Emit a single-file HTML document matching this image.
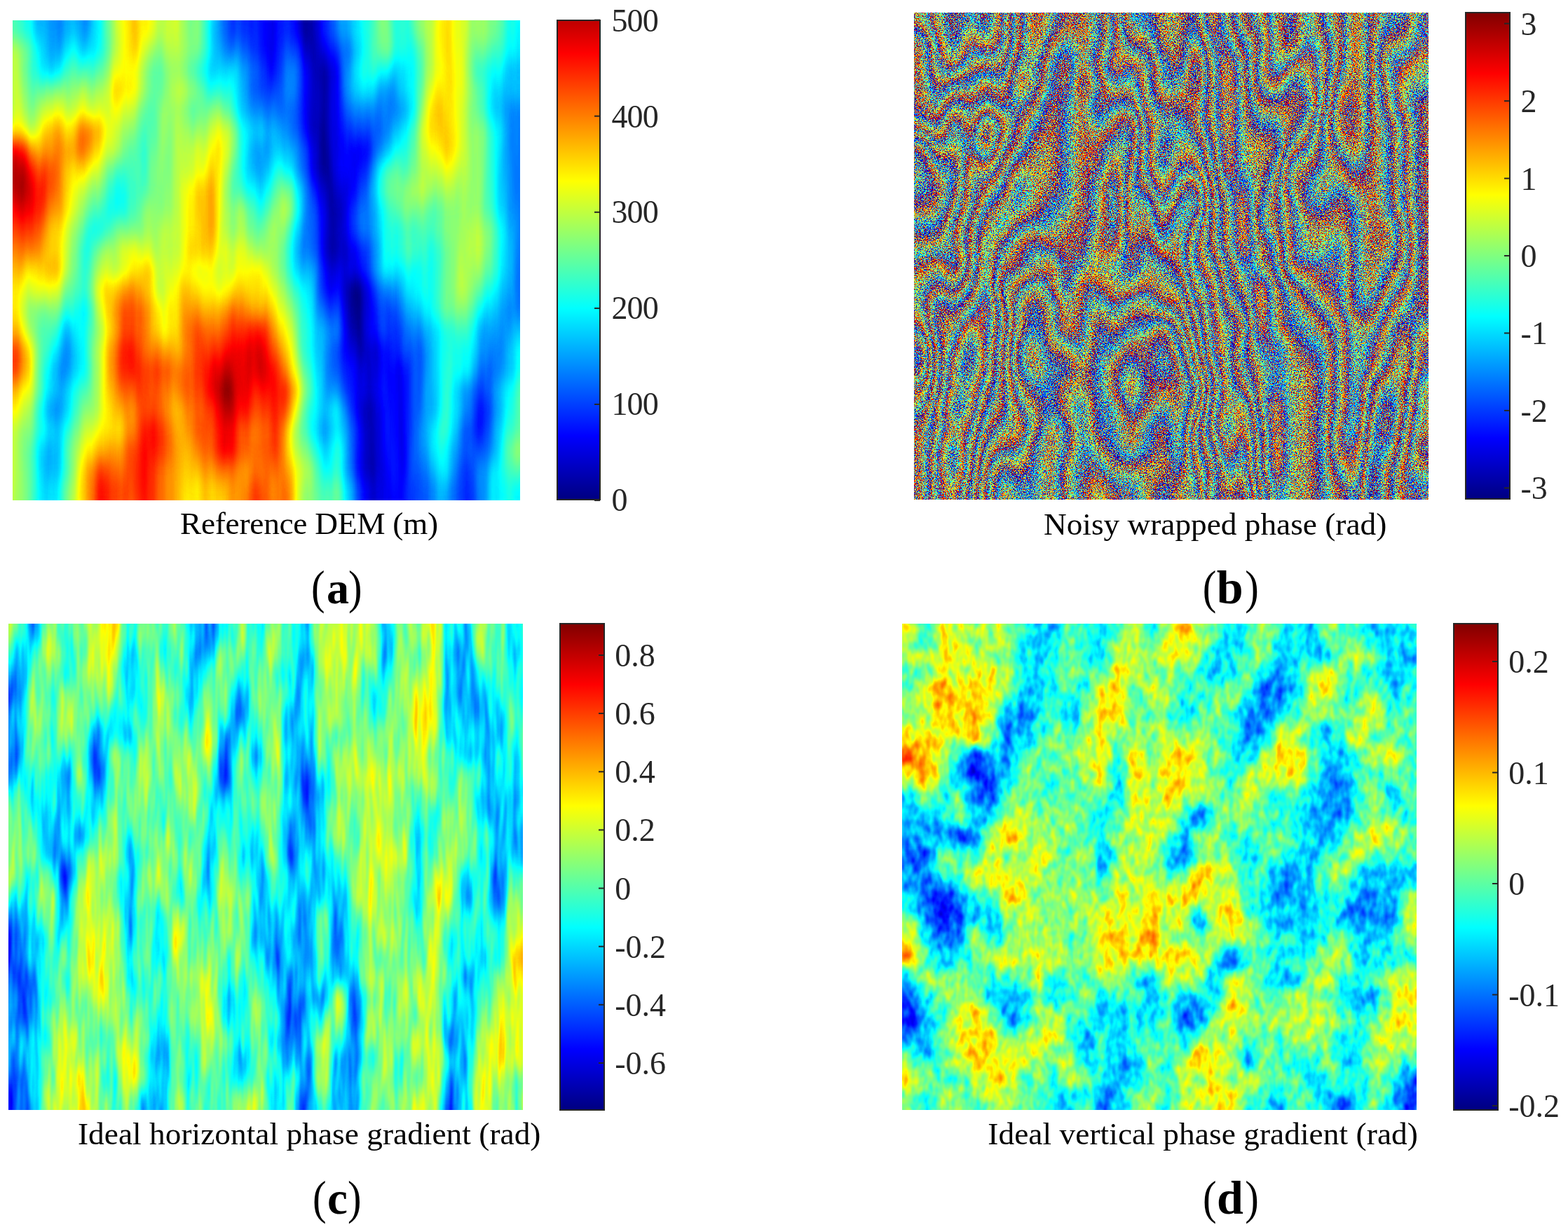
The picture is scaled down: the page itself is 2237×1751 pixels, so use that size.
<!DOCTYPE html>
<html><head><meta charset="utf-8"><title>Figure</title>
<style>
html,body{margin:0;padding:0;background:#fff}
body{width:2237px;height:1751px;overflow:hidden}
svg{display:block}
text{font-family:"Liberation Serif","Times New Roman",serif}
.t{font-size:46px;fill:#262626}
.c{font-size:45.3px;fill:#000}
.l{font-size:63px;font-weight:bold;fill:#000}
.p{font-size:68px;fill:#000}
</style></head><body>
<svg xmlns="http://www.w3.org/2000/svg" width="2237" height="1751" viewBox="0 0 2237 1751">
<defs>
<filter id="fa" filterUnits="userSpaceOnUse" x="-70" y="-70" width="864" height="825" color-interpolation-filters="sRGB">
<feGaussianBlur in="SourceGraphic" stdDeviation="10 13" result="b"/>
<feTurbulence type="fractalNoise" baseFrequency="0.05 0.006" numOctaves="2" seed="3" result="t"/>
<feColorMatrix in="t" type="matrix" values="1 0 0 0 0 1 0 0 0 0 1 0 0 0 0 0 0 0 0 1" result="n"/>
<feComposite in="b" in2="n" operator="arithmetic" k1="0" k2="1" k3="0.1" k4="-0.0500"/>
<feComponentTransfer><feFuncR type="table" tableValues="0 0 0 0 .5 1 1 1 .5"/><feFuncG type="table" tableValues="0 0 .5 1 1 1 .5 0 0"/><feFuncB type="table" tableValues=".5 1 1 1 .5 0 0 0 0"/><feFuncA type="linear" slope="0" intercept="1"/></feComponentTransfer>
</filter>
<filter id="fb" filterUnits="userSpaceOnUse" x="-70" y="-70" width="874" height="835" color-interpolation-filters="sRGB">
<feGaussianBlur in="SourceGraphic" stdDeviation="10 13" result="b"/>
<feTurbulence type="fractalNoise" baseFrequency="0.6 0.6" numOctaves="1" seed="7" result="t"/>
<feColorMatrix in="t" type="matrix" values="1 0 0 0 0 1 0 0 0 0 1 0 0 0 0 0 0 0 0 1" result="n"/>
<feComposite in="b" in2="n" operator="arithmetic" k1="0" k2="0.7" k3="0.17" k4="0.0650"/>
<feComponentTransfer><feFuncR type="discrete" tableValues="0 .187 .389 .591 .792 .994 1 1 1 1 .997 .796 .594 0 0 0 0 0 0 0 .019 .221 .423 .624 .826 1 1 1 1 1 .964 .762 .561 0 0 0 0 0 0 0 .053 .255 .456 .658 .86 1 1 1 1 1 .93 .729 .527 0 0 0 0 0 0 0 .087 .288 .49 .692 .893 1 1 1 1 1 .897 .695 0 0 0 0 0 0 0 0 .12 .322 .524 .725 .927 1 1 1 1 1 .863 .661 0 0 0 0 0 0 0 0 .154 .355 .557 .759 .961 1 1 1 1 1 .829 .628 0 0 0 0 0 0 0 0 .187 .389 .591 .792 .994 1 1 1 1 .997 .796 .594 0 0 0 0 0 0 0 .019 .221 .423 .624 .826 1 1 1 1 1 .964 .762 .561 0 0 0 0 0 0 0 .053 .255 .456 .658 .86 1 1 1 1 1 .93 .729 .527 0 0 0 0 0 0 0 .087 .288 .49 .692 .893 1 1 1 1 1 .897 .695 0 0 0 0 0 0 0 0 .12 .322 .524 .725 .927 1 1 1 1 1 .863 .661 0 0 0 0 0 0 0 0 .154 .355 .557 .759 .961 1 1 1 1 1 .829 .628 0 0 0 0 0 0 0 0 .187 .389 .591 .792 .994 1 1 1 1 .997 .796 .594 0 0 0 0 0"/><feFuncG type="discrete" tableValues=".986 1 1 1 1 1 .804 .603 .401 .199 0 0 0 0 0 .011 .213 .414 .616 .818 1 1 1 1 1 .972 .771 .569 .367 .166 0 0 0 0 0 .045 .246 .448 .65 .851 1 1 1 1 1 .939 .737 .535 .334 .132 0 0 0 0 0 .078 .28 .482 .683 .885 1 1 1 1 1 .905 .703 .502 .3 .098 0 0 0 0 0 .112 .313 .515 .717 .918 1 1 1 1 1 .871 .67 .468 .266 .065 0 0 0 0 0 .145 .347 .549 .75 .952 1 1 1 1 1 .838 .636 .434 .233 .031 0 0 0 0 0 .179 .381 .582 .784 .986 1 1 1 1 1 .804 .603 .401 .199 0 0 0 0 0 .011 .213 .414 .616 .818 1 1 1 1 1 .972 .771 .569 .367 .166 0 0 0 0 0 .045 .246 .448 .65 .851 1 1 1 1 1 .939 .737 .535 .334 .132 0 0 0 0 0 .078 .28 .482 .683 .885 1 1 1 1 1 .905 .703 .502 .3 .098 0 0 0 0 0 .112 .313 .515 .717 .918 1 1 1 1 1 .871 .67 .468 .266 .065 0 0 0 0 0 .145 .347 .549 .75 .952 1 1 1 1 1 .838 .636 .434 .233 .031 0 0 0 0 0 .179 .381 .582 .784 .986 1 1 1 1 1 .804 .603 .401 .199 0 0 0 0 0 .011 .213 .414"/><feFuncB type="discrete" tableValues="1 .813 .611 .409 .208 .006 0 0 0 0 0 0 0 .608 .809 1 1 1 1 1 .981 .779 .577 .376 .174 0 0 0 0 0 0 0 0 .641 .843 1 1 1 1 1 .947 .745 .544 .342 .14 0 0 0 0 0 0 0 0 .675 .876 1 1 1 1 1 .913 .712 .51 .308 .107 0 0 0 0 0 0 0 .507 .708 .91 1 1 1 1 1 .88 .678 .476 .275 .073 0 0 0 0 0 0 0 .54 .742 .944 1 1 1 1 1 .846 .645 .443 .241 .039 0 0 0 0 0 0 0 .574 .776 .977 1 1 1 1 1 .813 .611 .409 .208 .006 0 0 0 0 0 0 0 .608 .809 1 1 1 1 1 .981 .779 .577 .376 .174 0 0 0 0 0 0 0 0 .641 .843 1 1 1 1 1 .947 .745 .544 .342 .14 0 0 0 0 0 0 0 0 .675 .876 1 1 1 1 1 .913 .712 .51 .308 .107 0 0 0 0 0 0 0 .507 .708 .91 1 1 1 1 1 .88 .678 .476 .275 .073 0 0 0 0 0 0 0 .54 .742 .944 1 1 1 1 1 .846 .645 .443 .241 .039 0 0 0 0 0 0 0 .574 .776 .977 1 1 1 1 1 .813 .611 .409 .208 .006 0 0 0 0 0 0 0 .608 .809 1 1 1"/><feFuncA type="linear" slope="0" intercept="1"/></feComponentTransfer>
</filter>
<filter id="fc" filterUnits="userSpaceOnUse" x="-70" y="-70" width="874" height="834" color-interpolation-filters="sRGB">
<feGaussianBlur in="SourceGraphic" stdDeviation="6 12" result="b"/>
<feTurbulence type="fractalNoise" baseFrequency="0.1 0.012" numOctaves="2" seed="11" result="t"/>
<feColorMatrix in="t" type="matrix" values="1 0 0 0 0 1 0 0 0 0 1 0 0 0 0 0 0 0 0 1" result="n"/>
<feComposite in="b" in2="n" operator="arithmetic" k1="0" k2="1" k3="0.25" k4="-0.1250"/>
<feComponentTransfer><feFuncR type="table" tableValues="0 0 0 0 .5 1 1 1 .5"/><feFuncG type="table" tableValues="0 0 .5 1 1 1 .5 0 0"/><feFuncB type="table" tableValues=".5 1 1 1 .5 0 0 0 0"/><feFuncA type="linear" slope="0" intercept="1"/></feComponentTransfer>
</filter>
<filter id="fd" filterUnits="userSpaceOnUse" x="-70" y="-70" width="874" height="834" color-interpolation-filters="sRGB">
<feGaussianBlur in="SourceGraphic" stdDeviation="8 10" result="b"/>
<feTurbulence type="fractalNoise" baseFrequency="0.09 0.05" numOctaves="2" seed="5" result="t"/>
<feColorMatrix in="t" type="matrix" values="1 0 0 0 0 1 0 0 0 0 1 0 0 0 0 0 0 0 0 1" result="n"/>
<feComposite in="b" in2="n" operator="arithmetic" k1="0" k2="1" k3="0.3" k4="-0.1500"/>
<feComponentTransfer><feFuncR type="table" tableValues="0 0 0 0 .5 1 1 1 .5"/><feFuncG type="table" tableValues="0 0 .5 1 1 1 .5 0 0"/><feFuncB type="table" tableValues=".5 1 1 1 .5 0 0 0 0"/><feFuncA type="linear" slope="0" intercept="1"/></feComponentTransfer>
</filter>
</defs>
<rect width="2237" height="1751" fill="#fff"/>

<svg x="18" y="29" width="724" height="685" viewBox="0 0 724 685" overflow="hidden">
<rect width="724" height="685" fill="#7f7"/>
<g filter="url(#fa)"><g transform="translate(-67.875 -85.625) scale(22.6250 28.5417)" shape-rendering="crispEdges">
<rect width="38" height="30" fill="#888"/>
<path fill="rgb(0,0,0)" d="M21 0h1v1h-1zM21 1h1v1h-1zM21 2h1v1h-1zM21 3h1v1h-1zM22 5h1v1h-1zM22 6h1v1h-1zM22 7h1v1h-1zM22 8h1v1h-1zM22 9h1v1h-1zM22 10h1v1h-1zM23 12h1v1h-1zM23 13h1v1h-1zM23 14h1v1h-1zM24 16h1v1h-1zM24 17h1v1h-1zM24 18h1v1h-1zM25 22h1v1h-1zM25 23h1v1h-1zM25 24h1v1h-1zM25 25h1v1h-1z"/>
<path fill="rgb(16,16,16)" d="M21 4h2v1h-2zM22 11h2v1h-2zM23 15h1v1h-1zM24 19h2v1h-2zM25 20h1v1h-1zM25 21h1v1h-1zM25 26h1v1h-1zM25 27h1v1h-1zM25 28h1v1h-1zM25 29h1v1h-1z"/>
<path fill="rgb(32,32,32)" d="M18 0h2v1h-2zM22 0h1v1h-1zM18 1h2v1h-2zM22 1h1v1h-1zM18 2h2v1h-2zM22 2h1v1h-1zM18 3h2v1h-2zM22 3h1v1h-1zM18 4h2v1h-2zM19 5h1v1h-1zM21 5h1v1h-1zM23 5h1v1h-1zM21 6h1v1h-1zM23 6h1v1h-1zM21 7h1v1h-1zM23 7h1v1h-1zM21 8h1v1h-1zM23 8h1v1h-1zM23 9h3v1h-3zM23 10h2v1h-2zM24 11h1v1h-1zM22 12h1v1h-1zM22 13h1v1h-1zM22 14h1v1h-1zM24 14h1v1h-1zM24 15h1v1h-1zM23 16h1v1h-1zM25 16h1v1h-1zM25 17h1v1h-1zM25 18h1v1h-1zM26 19h1v1h-1zM24 20h1v1h-1zM26 20h2v1h-2zM24 21h1v1h-1zM26 21h2v1h-2zM24 22h1v1h-1zM26 22h2v1h-2zM32 22h1v1h-1zM26 23h2v1h-2zM32 23h1v1h-1zM26 24h2v1h-2zM26 25h2v1h-2zM31 25h1v1h-1zM26 26h2v1h-2zM31 26h1v1h-1zM26 27h2v1h-2zM31 27h1v1h-1zM26 28h2v1h-2zM31 28h1v1h-1zM26 29h2v1h-2zM31 29h1v1h-1z"/>
<path fill="rgb(48,48,48)" d="M16 0h2v1h-2zM20 0h1v1h-1zM16 1h2v1h-2zM20 1h1v1h-1zM16 2h2v1h-2zM20 2h1v1h-1zM16 3h2v1h-2zM20 3h1v1h-1zM23 4h1v1h-1zM18 5h1v1h-1zM18 6h2v1h-2zM24 8h2v1h-2zM21 9h1v1h-1zM21 10h1v1h-1zM25 10h1v1h-1zM24 12h1v1h-1zM24 13h1v1h-1zM25 14h1v1h-1zM22 15h1v1h-1zM25 15h1v1h-1zM22 16h1v1h-1zM23 17h1v1h-1zM26 17h1v1h-1zM26 18h2v1h-2zM23 19h1v1h-1zM27 19h2v1h-2zM33 19h1v1h-1zM23 20h1v1h-1zM28 20h1v1h-1zM33 20h1v1h-1zM28 21h1v1h-1zM32 21h1v1h-1zM28 22h1v1h-1zM24 23h1v1h-1zM28 23h1v1h-1zM31 23h1v1h-1zM24 24h1v1h-1zM28 24h1v1h-1zM31 24h2v1h-2zM24 25h1v1h-1zM28 25h1v1h-1zM28 26h1v1h-1zM28 27h1v1h-1zM28 28h1v1h-1zM28 29h1v1h-1z"/>
<path fill="rgb(64,64,64)" d="M5 0h1v1h-1zM7 0h1v1h-1zM23 0h1v1h-1zM5 1h1v1h-1zM7 1h1v1h-1zM23 1h1v1h-1zM5 2h1v1h-1zM7 2h1v1h-1zM23 2h1v1h-1zM5 3h1v1h-1zM7 3h1v1h-1zM23 3h1v1h-1zM5 4h1v1h-1zM16 4h2v1h-2zM20 4h1v1h-1zM24 4h1v1h-1zM26 6h1v1h-1zM18 7h3v1h-3zM24 7h4v1h-4zM34 7h4v1h-4zM20 8h1v1h-1zM26 8h1v1h-1zM34 8h4v1h-4zM18 9h1v1h-1zM34 9h4v1h-4zM18 10h1v1h-1zM34 10h4v1h-4zM21 11h1v1h-1zM25 11h1v1h-1zM34 11h4v1h-4zM21 12h1v1h-1zM25 12h1v1h-1zM34 12h4v1h-4zM21 13h1v1h-1zM25 13h1v1h-1zM34 13h4v1h-4zM21 14h1v1h-1zM34 14h4v1h-4zM34 15h4v1h-4zM26 16h1v1h-1zM34 16h4v1h-4zM22 17h1v1h-1zM27 17h1v1h-1zM34 17h4v1h-4zM23 18h1v1h-1zM28 18h1v1h-1zM33 18h1v1h-1zM6 19h1v1h-1zM6 20h1v1h-1zM32 20h1v1h-1zM23 21h1v1h-1zM31 21h1v1h-1zM33 21h1v1h-1zM5 22h1v1h-1zM31 22h1v1h-1zM33 22h1v1h-1zM22 23h1v1h-1zM5 24h1v1h-1zM5 25h1v1h-1zM32 25h1v1h-1zM24 26h1v1h-1zM29 26h1v1h-1zM32 26h1v1h-1zM24 27h1v1h-1zM29 27h1v1h-1zM32 27h1v1h-1zM24 28h1v1h-1zM29 28h1v1h-1zM32 28h1v1h-1zM24 29h1v1h-1zM29 29h1v1h-1zM32 29h1v1h-1z"/>
<path fill="rgb(80,80,80)" d="M4 0h1v1h-1zM6 0h1v1h-1zM24 0h1v1h-1zM4 1h1v1h-1zM6 1h1v1h-1zM24 1h1v1h-1zM4 2h1v1h-1zM6 2h1v1h-1zM24 2h1v1h-1zM4 3h1v1h-1zM6 3h1v1h-1zM24 3h1v1h-1zM7 4h1v1h-1zM5 5h1v1h-1zM15 5h1v1h-1zM17 5h1v1h-1zM20 5h1v1h-1zM24 5h1v1h-1zM27 5h1v1h-1zM34 5h4v1h-4zM17 6h1v1h-1zM20 6h1v1h-1zM24 6h1v1h-1zM27 6h1v1h-1zM33 6h5v1h-5zM17 7h1v1h-1zM33 7h1v1h-1zM18 8h2v1h-2zM27 8h1v1h-1zM19 9h2v1h-2zM26 9h1v1h-1zM18 11h1v1h-1zM21 15h1v1h-1zM27 16h1v1h-1zM7 17h1v1h-1zM28 17h1v1h-1zM33 17h1v1h-1zM6 18h1v1h-1zM22 18h1v1h-1zM29 18h1v1h-1zM32 18h1v1h-1zM34 18h4v1h-4zM22 19h1v1h-1zM29 19h1v1h-1zM32 19h1v1h-1zM5 20h1v1h-1zM22 20h1v1h-1zM29 20h1v1h-1zM5 21h2v1h-2zM22 21h1v1h-1zM29 21h1v1h-1zM6 22h1v1h-1zM22 22h1v1h-1zM29 22h1v1h-1zM5 23h1v1h-1zM33 23h1v1h-1zM22 24h1v1h-1zM33 24h1v1h-1zM29 25h1v1h-1zM5 26h1v1h-1zM30 26h1v1h-1zM5 27h1v1h-1zM30 27h1v1h-1zM5 28h1v1h-1zM30 28h1v1h-1zM5 29h1v1h-1zM30 29h1v1h-1z"/>
<path fill="rgb(96,96,96)" d="M8 0h1v1h-1zM15 0h1v1h-1zM27 0h1v1h-1zM34 0h4v1h-4zM8 1h1v1h-1zM15 1h1v1h-1zM27 1h1v1h-1zM34 1h4v1h-4zM8 2h1v1h-1zM15 2h1v1h-1zM27 2h1v1h-1zM34 2h4v1h-4zM8 3h1v1h-1zM15 3h1v1h-1zM27 3h1v1h-1zM34 3h4v1h-4zM4 4h1v1h-1zM6 4h1v1h-1zM8 4h1v1h-1zM15 4h1v1h-1zM27 4h1v1h-1zM34 4h4v1h-4zM4 5h1v1h-1zM16 5h1v1h-1zM26 5h1v1h-1zM32 5h2v1h-2zM15 6h1v1h-1zM25 6h1v1h-1zM17 8h1v1h-1zM33 8h1v1h-1zM17 9h1v1h-1zM27 9h1v1h-1zM33 9h1v1h-1zM17 10h1v1h-1zM19 10h2v1h-2zM33 10h1v1h-1zM9 11h1v1h-1zM33 11h1v1h-1zM9 12h1v1h-1zM18 12h1v1h-1zM26 12h1v1h-1zM33 12h1v1h-1zM8 13h1v1h-1zM26 13h1v1h-1zM7 14h1v1h-1zM20 14h1v1h-1zM26 14h1v1h-1zM29 14h1v1h-1zM7 15h1v1h-1zM20 15h1v1h-1zM26 15h4v1h-4zM7 16h1v1h-1zM21 16h1v1h-1zM28 16h2v1h-2zM33 16h1v1h-1zM21 17h1v1h-1zM29 17h1v1h-1zM32 17h1v1h-1zM7 18h1v1h-1zM21 18h1v1h-1zM5 19h1v1h-1zM7 19h1v1h-1zM21 19h1v1h-1zM31 19h1v1h-1zM34 19h4v1h-4zM7 20h1v1h-1zM31 20h1v1h-1zM34 20h4v1h-4zM23 22h1v1h-1zM6 23h1v1h-1zM23 23h1v1h-1zM29 23h1v1h-1zM4 24h1v1h-1zM29 24h2v1h-2zM4 25h1v1h-1zM22 25h1v1h-1zM30 25h1v1h-1zM33 25h1v1h-1zM4 26h1v1h-1zM33 26h5v1h-5zM4 27h1v1h-1zM33 27h5v1h-5zM4 28h1v1h-1zM33 28h5v1h-5zM4 29h1v1h-1zM33 29h5v1h-5z"/>
<path fill="rgb(112,112,112)" d="M0 0h4v1h-4zM25 0h1v1h-1zM0 1h4v1h-4zM25 1h1v1h-1zM0 2h4v1h-4zM25 2h1v1h-1zM0 3h4v1h-4zM25 3h1v1h-1zM25 4h1v1h-1zM28 4h1v1h-1zM32 4h2v1h-2zM6 5h3v1h-3zM12 5h1v1h-1zM14 5h1v1h-1zM25 5h1v1h-1zM28 5h1v1h-1zM4 6h1v1h-1zM12 6h1v1h-1zM16 6h1v1h-1zM28 6h1v1h-1zM32 6h1v1h-1zM11 7h1v1h-1zM14 7h1v1h-1zM28 7h1v1h-1zM32 7h1v1h-1zM11 8h1v1h-1zM10 9h2v1h-2zM9 10h3v1h-3zM26 10h2v1h-2zM10 11h2v1h-2zM17 11h1v1h-1zM19 11h1v1h-1zM26 11h1v1h-1zM8 12h1v1h-1zM10 12h1v1h-1zM29 12h1v1h-1zM7 13h1v1h-1zM18 13h1v1h-1zM20 13h1v1h-1zM27 13h3v1h-3zM33 13h1v1h-1zM27 14h2v1h-2zM33 14h1v1h-1zM33 15h1v1h-1zM20 16h1v1h-1zM32 16h1v1h-1zM4 17h1v1h-1zM6 17h1v1h-1zM4 18h2v1h-2zM30 18h2v1h-2zM30 19h1v1h-1zM21 20h1v1h-1zM30 20h1v1h-1zM7 21h1v1h-1zM30 21h1v1h-1zM34 21h4v1h-4zM4 22h1v1h-1zM21 22h1v1h-1zM30 22h1v1h-1zM34 22h4v1h-4zM4 23h1v1h-1zM21 23h1v1h-1zM30 23h1v1h-1zM34 23h4v1h-4zM6 24h1v1h-1zM23 24h1v1h-1zM6 25h1v1h-1zM23 25h1v1h-1zM34 25h4v1h-4zM22 26h1v1h-1zM22 27h1v1h-1zM22 28h1v1h-1zM22 29h1v1h-1z"/>
<path fill="rgb(128,128,128)" d="M14 0h1v1h-1zM26 0h1v1h-1zM28 0h1v1h-1zM32 0h2v1h-2zM14 1h1v1h-1zM26 1h1v1h-1zM28 1h1v1h-1zM32 1h2v1h-2zM14 2h1v1h-1zM26 2h1v1h-1zM28 2h1v1h-1zM32 2h2v1h-2zM14 3h1v1h-1zM26 3h1v1h-1zM28 3h1v1h-1zM32 3h2v1h-2zM12 4h1v1h-1zM14 4h1v1h-1zM26 4h1v1h-1zM11 5h1v1h-1zM5 6h2v1h-2zM8 6h1v1h-1zM11 6h1v1h-1zM14 6h1v1h-1zM4 7h1v1h-1zM12 7h1v1h-1zM15 7h2v1h-2zM10 8h1v1h-1zM12 8h1v1h-1zM14 8h1v1h-1zM28 8h1v1h-1zM32 8h1v1h-1zM12 9h1v1h-1zM28 9h1v1h-1zM32 9h1v1h-1zM12 10h1v1h-1zM28 10h1v1h-1zM32 10h1v1h-1zM8 11h1v1h-1zM12 11h1v1h-1zM16 11h1v1h-1zM20 11h1v1h-1zM27 11h1v1h-1zM29 11h1v1h-1zM32 11h1v1h-1zM7 12h1v1h-1zM11 12h2v1h-2zM16 12h1v1h-1zM19 12h1v1h-1zM27 12h2v1h-2zM30 12h1v1h-1zM32 12h1v1h-1zM9 13h3v1h-3zM16 13h1v1h-1zM30 13h1v1h-1zM8 14h1v1h-1zM18 14h1v1h-1zM30 14h1v1h-1zM30 15h1v1h-1zM32 15h1v1h-1zM6 16h1v1h-1zM30 16h1v1h-1zM5 17h1v1h-1zM20 17h1v1h-1zM30 17h2v1h-2zM8 18h1v1h-1zM4 19h1v1h-1zM4 20h1v1h-1zM4 21h1v1h-1zM21 21h1v1h-1zM7 22h1v1h-1zM21 24h1v1h-1zM34 24h4v1h-4zM6 26h1v1h-1zM21 26h1v1h-1zM23 26h1v1h-1zM6 27h1v1h-1zM21 27h1v1h-1zM23 27h1v1h-1zM6 28h1v1h-1zM21 28h1v1h-1zM23 28h1v1h-1zM6 29h1v1h-1zM21 29h1v1h-1zM23 29h1v1h-1z"/>
<path fill="rgb(143,143,143)" d="M9 0h1v1h-1zM12 0h2v1h-2zM29 0h1v1h-1zM31 0h1v1h-1zM9 1h1v1h-1zM12 1h2v1h-2zM29 1h1v1h-1zM31 1h1v1h-1zM9 2h1v1h-1zM12 2h2v1h-2zM29 2h1v1h-1zM31 2h1v1h-1zM9 3h1v1h-1zM12 3h2v1h-2zM29 3h1v1h-1zM31 3h1v1h-1zM0 4h4v1h-4zM9 4h1v1h-1zM11 4h1v1h-1zM13 4h1v1h-1zM29 4h1v1h-1zM31 4h1v1h-1zM0 5h4v1h-4zM13 5h1v1h-1zM29 5h1v1h-1zM31 5h1v1h-1zM0 6h4v1h-4zM7 6h1v1h-1zM31 6h1v1h-1zM0 7h4v1h-4zM6 7h1v1h-1zM8 7h1v1h-1zM10 7h1v1h-1zM13 7h1v1h-1zM31 7h1v1h-1zM4 8h1v1h-1zM9 8h1v1h-1zM13 8h1v1h-1zM15 8h1v1h-1zM31 8h1v1h-1zM9 9h1v1h-1zM13 9h2v1h-2zM31 9h1v1h-1zM8 10h1v1h-1zM13 10h2v1h-2zM16 10h1v1h-1zM29 10h1v1h-1zM31 10h1v1h-1zM7 11h1v1h-1zM13 11h1v1h-1zM28 11h1v1h-1zM30 11h2v1h-2zM13 12h1v1h-1zM17 12h1v1h-1zM20 12h1v1h-1zM31 12h1v1h-1zM6 13h1v1h-1zM12 13h2v1h-2zM17 13h1v1h-1zM19 13h1v1h-1zM31 13h2v1h-2zM6 14h1v1h-1zM9 14h1v1h-1zM11 14h3v1h-3zM16 14h1v1h-1zM19 14h1v1h-1zM31 14h2v1h-2zM6 15h1v1h-1zM8 15h2v1h-2zM12 15h1v1h-1zM16 15h1v1h-1zM19 15h1v1h-1zM31 15h1v1h-1zM4 16h1v1h-1zM12 16h1v1h-1zM31 16h1v1h-1zM8 17h1v1h-1zM20 18h1v1h-1zM8 19h1v1h-1zM8 20h1v1h-1zM8 21h1v1h-1zM8 22h1v1h-1zM0 23h4v1h-4zM7 23h1v1h-1zM0 24h4v1h-4zM0 25h4v1h-4zM21 25h1v1h-1zM0 26h4v1h-4zM0 27h4v1h-4zM0 28h4v1h-4zM0 29h4v1h-4z"/>
<path fill="rgb(159,159,159)" d="M11 0h1v1h-1zM11 1h1v1h-1zM11 2h1v1h-1zM11 3h1v1h-1zM9 5h2v1h-2zM10 6h1v1h-1zM13 6h1v1h-1zM29 6h1v1h-1zM5 7h1v1h-1zM7 7h1v1h-1zM9 7h1v1h-1zM0 8h4v1h-4zM6 8h1v1h-1zM16 8h1v1h-1zM8 9h1v1h-1zM15 9h2v1h-2zM29 9h1v1h-1zM6 10h1v1h-1zM30 10h1v1h-1zM6 11h1v1h-1zM14 11h1v1h-1zM6 12h1v1h-1zM14 12h1v1h-1zM14 13h1v1h-1zM10 14h1v1h-1zM17 14h1v1h-1zM4 15h1v1h-1zM10 15h1v1h-1zM13 15h3v1h-3zM17 15h2v1h-2zM0 16h4v1h-4zM5 16h1v1h-1zM8 16h1v1h-1zM15 16h2v1h-2zM18 16h2v1h-2zM0 17h4v1h-4zM12 17h1v1h-1zM12 18h1v1h-1zM20 19h1v1h-1zM0 22h4v1h-4zM8 23h2v1h-2zM20 23h1v1h-1zM7 24h1v1h-1zM20 24h1v1h-1zM14 26h1v1h-1zM14 27h1v1h-1zM14 28h1v1h-1zM14 29h1v1h-1z"/>
<path fill="rgb(175,175,175)" d="M10 0h1v1h-1zM30 0h1v1h-1zM10 1h1v1h-1zM30 1h1v1h-1zM10 2h1v1h-1zM30 2h1v1h-1zM10 3h1v1h-1zM30 3h1v1h-1zM10 4h1v1h-1zM30 4h1v1h-1zM30 5h1v1h-1zM9 6h1v1h-1zM30 6h1v1h-1zM29 7h2v1h-2zM8 8h1v1h-1zM29 8h2v1h-2zM4 9h1v1h-1zM6 9h1v1h-1zM30 9h1v1h-1zM7 10h1v1h-1zM15 10h1v1h-1zM5 13h1v1h-1zM5 14h1v1h-1zM14 14h2v1h-2zM0 15h4v1h-4zM11 15h1v1h-1zM9 16h1v1h-1zM11 16h1v1h-1zM13 16h2v1h-2zM17 16h1v1h-1zM13 17h1v1h-1zM15 17h1v1h-1zM18 17h2v1h-2zM0 18h4v1h-4zM13 18h1v1h-1zM13 19h1v1h-1zM20 20h1v1h-1zM0 21h4v1h-4zM9 22h1v1h-1zM13 22h1v1h-1zM13 23h1v1h-1zM8 24h2v1h-2zM13 24h1v1h-1zM7 25h1v1h-1zM13 25h2v1h-2zM20 25h1v1h-1zM7 26h1v1h-1zM13 26h1v1h-1zM15 26h2v1h-2zM7 27h1v1h-1zM13 27h1v1h-1zM15 27h2v1h-2zM7 28h1v1h-1zM13 28h1v1h-1zM15 28h2v1h-2zM7 29h1v1h-1zM13 29h1v1h-1zM15 29h2v1h-2z"/>
<path fill="rgb(191,191,191)" d="M5 8h1v1h-1zM5 9h1v1h-1zM15 11h1v1h-1zM5 12h1v1h-1zM15 12h1v1h-1zM15 13h1v1h-1zM0 14h5v1h-5zM5 15h1v1h-1zM10 16h1v1h-1zM9 17h1v1h-1zM11 17h1v1h-1zM14 17h1v1h-1zM16 17h2v1h-2zM9 18h1v1h-1zM11 18h1v1h-1zM15 18h1v1h-1zM19 18h1v1h-1zM11 19h2v1h-2zM13 20h1v1h-1zM9 21h1v1h-1zM12 21h2v1h-2zM10 22h1v1h-1zM12 22h1v1h-1zM20 22h1v1h-1zM10 23h1v1h-1zM18 23h1v1h-1zM14 24h1v1h-1zM18 24h1v1h-1zM9 25h1v1h-1zM12 25h1v1h-1zM15 25h4v1h-4zM12 26h1v1h-1zM17 26h1v1h-1zM19 26h2v1h-2zM12 27h1v1h-1zM17 27h1v1h-1zM19 27h2v1h-2zM12 28h1v1h-1zM17 28h1v1h-1zM19 28h2v1h-2zM12 29h1v1h-1zM17 29h1v1h-1zM19 29h2v1h-2z"/>
<path fill="rgb(207,207,207)" d="M7 8h1v1h-1zM7 9h1v1h-1zM4 10h2v1h-2zM5 11h1v1h-1zM0 13h5v1h-5zM10 17h1v1h-1zM10 18h1v1h-1zM14 18h1v1h-1zM16 18h2v1h-2zM0 19h4v1h-4zM9 19h1v1h-1zM14 19h2v1h-2zM19 19h1v1h-1zM0 20h4v1h-4zM9 20h1v1h-1zM11 20h2v1h-2zM14 20h1v1h-1zM10 21h2v1h-2zM14 21h1v1h-1zM20 21h1v1h-1zM11 22h1v1h-1zM14 22h2v1h-2zM18 22h1v1h-1zM12 23h1v1h-1zM14 23h2v1h-2zM17 23h1v1h-1zM10 24h1v1h-1zM12 24h1v1h-1zM15 24h1v1h-1zM17 24h1v1h-1zM8 25h1v1h-1zM10 25h1v1h-1zM19 25h1v1h-1zM9 26h2v1h-2zM18 26h1v1h-1zM9 27h2v1h-2zM18 27h1v1h-1zM9 28h2v1h-2zM18 28h1v1h-1zM9 29h2v1h-2zM18 29h1v1h-1z"/>
<path fill="rgb(223,223,223)" d="M0 9h4v1h-4zM4 11h1v1h-1zM0 12h5v1h-5zM18 18h1v1h-1zM10 19h1v1h-1zM16 19h2v1h-2zM10 20h1v1h-1zM15 20h1v1h-1zM17 20h1v1h-1zM19 20h1v1h-1zM15 21h1v1h-1zM17 21h3v1h-3zM17 22h1v1h-1zM19 22h1v1h-1zM11 23h1v1h-1zM16 23h1v1h-1zM19 23h1v1h-1zM11 24h1v1h-1zM16 24h1v1h-1zM19 24h1v1h-1zM11 25h1v1h-1zM8 26h1v1h-1zM11 26h1v1h-1zM8 27h1v1h-1zM11 27h1v1h-1zM8 28h1v1h-1zM11 28h1v1h-1zM8 29h1v1h-1zM11 29h1v1h-1z"/>
<path fill="rgb(239,239,239)" d="M0 10h4v1h-4zM0 11h4v1h-4zM18 19h1v1h-1zM16 20h1v1h-1zM18 20h1v1h-1zM16 22h1v1h-1z"/>
<path fill="rgb(255,255,255)" d="M16 21h1v1h-1z"/>
</g></g>
</svg>
<svg x="1304" y="18" width="734" height="695" viewBox="0 0 734 695" overflow="hidden">
<rect width="734" height="695" fill="#7f7"/>
<g filter="url(#fb)"><g transform="translate(-68.812 -86.875) scale(22.9375 28.9583)" shape-rendering="crispEdges">
<rect width="38" height="30" fill="#888"/>
<path fill="rgb(0,0,0)" d="M21 0h1v1h-1zM21 1h1v1h-1zM21 2h1v1h-1zM21 3h1v1h-1zM22 5h1v1h-1zM22 6h1v1h-1zM22 7h1v1h-1zM22 8h1v1h-1zM22 9h1v1h-1zM22 10h1v1h-1zM23 12h1v1h-1zM23 13h1v1h-1zM23 14h1v1h-1zM24 16h1v1h-1zM24 17h1v1h-1zM24 18h1v1h-1zM25 22h1v1h-1zM25 23h1v1h-1zM25 24h1v1h-1zM25 25h1v1h-1z"/>
<path fill="rgb(16,16,16)" d="M21 4h2v1h-2zM22 11h2v1h-2zM23 15h1v1h-1zM24 19h2v1h-2zM25 20h1v1h-1zM25 21h1v1h-1zM25 26h1v1h-1zM25 27h1v1h-1zM25 28h1v1h-1zM25 29h1v1h-1z"/>
<path fill="rgb(32,32,32)" d="M18 0h2v1h-2zM22 0h1v1h-1zM18 1h2v1h-2zM22 1h1v1h-1zM18 2h2v1h-2zM22 2h1v1h-1zM18 3h2v1h-2zM22 3h1v1h-1zM18 4h2v1h-2zM19 5h1v1h-1zM21 5h1v1h-1zM23 5h1v1h-1zM21 6h1v1h-1zM23 6h1v1h-1zM21 7h1v1h-1zM23 7h1v1h-1zM21 8h1v1h-1zM23 8h1v1h-1zM23 9h3v1h-3zM23 10h2v1h-2zM24 11h1v1h-1zM22 12h1v1h-1zM22 13h1v1h-1zM22 14h1v1h-1zM24 14h1v1h-1zM24 15h1v1h-1zM23 16h1v1h-1zM25 16h1v1h-1zM25 17h1v1h-1zM25 18h1v1h-1zM26 19h1v1h-1zM24 20h1v1h-1zM26 20h2v1h-2zM24 21h1v1h-1zM26 21h2v1h-2zM24 22h1v1h-1zM26 22h2v1h-2zM32 22h1v1h-1zM26 23h2v1h-2zM32 23h1v1h-1zM26 24h2v1h-2zM26 25h2v1h-2zM31 25h1v1h-1zM26 26h2v1h-2zM31 26h1v1h-1zM26 27h2v1h-2zM31 27h1v1h-1zM26 28h2v1h-2zM31 28h1v1h-1zM26 29h2v1h-2zM31 29h1v1h-1z"/>
<path fill="rgb(48,48,48)" d="M16 0h2v1h-2zM20 0h1v1h-1zM16 1h2v1h-2zM20 1h1v1h-1zM16 2h2v1h-2zM20 2h1v1h-1zM16 3h2v1h-2zM20 3h1v1h-1zM23 4h1v1h-1zM18 5h1v1h-1zM18 6h2v1h-2zM24 8h2v1h-2zM21 9h1v1h-1zM21 10h1v1h-1zM25 10h1v1h-1zM24 12h1v1h-1zM24 13h1v1h-1zM25 14h1v1h-1zM22 15h1v1h-1zM25 15h1v1h-1zM22 16h1v1h-1zM23 17h1v1h-1zM26 17h1v1h-1zM26 18h2v1h-2zM23 19h1v1h-1zM27 19h2v1h-2zM33 19h1v1h-1zM23 20h1v1h-1zM28 20h1v1h-1zM33 20h1v1h-1zM28 21h1v1h-1zM32 21h1v1h-1zM28 22h1v1h-1zM24 23h1v1h-1zM28 23h1v1h-1zM31 23h1v1h-1zM24 24h1v1h-1zM28 24h1v1h-1zM31 24h2v1h-2zM24 25h1v1h-1zM28 25h1v1h-1zM28 26h1v1h-1zM28 27h1v1h-1zM28 28h1v1h-1zM28 29h1v1h-1z"/>
<path fill="rgb(64,64,64)" d="M5 0h1v1h-1zM7 0h1v1h-1zM23 0h1v1h-1zM5 1h1v1h-1zM7 1h1v1h-1zM23 1h1v1h-1zM5 2h1v1h-1zM7 2h1v1h-1zM23 2h1v1h-1zM5 3h1v1h-1zM7 3h1v1h-1zM23 3h1v1h-1zM5 4h1v1h-1zM16 4h2v1h-2zM20 4h1v1h-1zM24 4h1v1h-1zM26 6h1v1h-1zM18 7h3v1h-3zM24 7h4v1h-4zM34 7h4v1h-4zM20 8h1v1h-1zM26 8h1v1h-1zM34 8h4v1h-4zM18 9h1v1h-1zM34 9h4v1h-4zM18 10h1v1h-1zM34 10h4v1h-4zM21 11h1v1h-1zM25 11h1v1h-1zM34 11h4v1h-4zM21 12h1v1h-1zM25 12h1v1h-1zM34 12h4v1h-4zM21 13h1v1h-1zM25 13h1v1h-1zM34 13h4v1h-4zM21 14h1v1h-1zM34 14h4v1h-4zM34 15h4v1h-4zM26 16h1v1h-1zM34 16h4v1h-4zM22 17h1v1h-1zM27 17h1v1h-1zM34 17h4v1h-4zM23 18h1v1h-1zM28 18h1v1h-1zM33 18h1v1h-1zM6 19h1v1h-1zM6 20h1v1h-1zM32 20h1v1h-1zM23 21h1v1h-1zM31 21h1v1h-1zM33 21h1v1h-1zM5 22h1v1h-1zM31 22h1v1h-1zM33 22h1v1h-1zM22 23h1v1h-1zM5 24h1v1h-1zM5 25h1v1h-1zM32 25h1v1h-1zM24 26h1v1h-1zM29 26h1v1h-1zM32 26h1v1h-1zM24 27h1v1h-1zM29 27h1v1h-1zM32 27h1v1h-1zM24 28h1v1h-1zM29 28h1v1h-1zM32 28h1v1h-1zM24 29h1v1h-1zM29 29h1v1h-1zM32 29h1v1h-1z"/>
<path fill="rgb(80,80,80)" d="M4 0h1v1h-1zM6 0h1v1h-1zM24 0h1v1h-1zM4 1h1v1h-1zM6 1h1v1h-1zM24 1h1v1h-1zM4 2h1v1h-1zM6 2h1v1h-1zM24 2h1v1h-1zM4 3h1v1h-1zM6 3h1v1h-1zM24 3h1v1h-1zM7 4h1v1h-1zM5 5h1v1h-1zM15 5h1v1h-1zM17 5h1v1h-1zM20 5h1v1h-1zM24 5h1v1h-1zM27 5h1v1h-1zM34 5h4v1h-4zM17 6h1v1h-1zM20 6h1v1h-1zM24 6h1v1h-1zM27 6h1v1h-1zM33 6h5v1h-5zM17 7h1v1h-1zM33 7h1v1h-1zM18 8h2v1h-2zM27 8h1v1h-1zM19 9h2v1h-2zM26 9h1v1h-1zM18 11h1v1h-1zM21 15h1v1h-1zM27 16h1v1h-1zM7 17h1v1h-1zM28 17h1v1h-1zM33 17h1v1h-1zM6 18h1v1h-1zM22 18h1v1h-1zM29 18h1v1h-1zM32 18h1v1h-1zM34 18h4v1h-4zM22 19h1v1h-1zM29 19h1v1h-1zM32 19h1v1h-1zM5 20h1v1h-1zM22 20h1v1h-1zM29 20h1v1h-1zM5 21h2v1h-2zM22 21h1v1h-1zM29 21h1v1h-1zM6 22h1v1h-1zM22 22h1v1h-1zM29 22h1v1h-1zM5 23h1v1h-1zM33 23h1v1h-1zM22 24h1v1h-1zM33 24h1v1h-1zM29 25h1v1h-1zM5 26h1v1h-1zM30 26h1v1h-1zM5 27h1v1h-1zM30 27h1v1h-1zM5 28h1v1h-1zM30 28h1v1h-1zM5 29h1v1h-1zM30 29h1v1h-1z"/>
<path fill="rgb(96,96,96)" d="M8 0h1v1h-1zM15 0h1v1h-1zM27 0h1v1h-1zM34 0h4v1h-4zM8 1h1v1h-1zM15 1h1v1h-1zM27 1h1v1h-1zM34 1h4v1h-4zM8 2h1v1h-1zM15 2h1v1h-1zM27 2h1v1h-1zM34 2h4v1h-4zM8 3h1v1h-1zM15 3h1v1h-1zM27 3h1v1h-1zM34 3h4v1h-4zM4 4h1v1h-1zM6 4h1v1h-1zM8 4h1v1h-1zM15 4h1v1h-1zM27 4h1v1h-1zM34 4h4v1h-4zM4 5h1v1h-1zM16 5h1v1h-1zM26 5h1v1h-1zM32 5h2v1h-2zM15 6h1v1h-1zM25 6h1v1h-1zM17 8h1v1h-1zM33 8h1v1h-1zM17 9h1v1h-1zM27 9h1v1h-1zM33 9h1v1h-1zM17 10h1v1h-1zM19 10h2v1h-2zM33 10h1v1h-1zM9 11h1v1h-1zM33 11h1v1h-1zM9 12h1v1h-1zM18 12h1v1h-1zM26 12h1v1h-1zM33 12h1v1h-1zM8 13h1v1h-1zM26 13h1v1h-1zM7 14h1v1h-1zM20 14h1v1h-1zM26 14h1v1h-1zM29 14h1v1h-1zM7 15h1v1h-1zM20 15h1v1h-1zM26 15h4v1h-4zM7 16h1v1h-1zM21 16h1v1h-1zM28 16h2v1h-2zM33 16h1v1h-1zM21 17h1v1h-1zM29 17h1v1h-1zM32 17h1v1h-1zM7 18h1v1h-1zM21 18h1v1h-1zM5 19h1v1h-1zM7 19h1v1h-1zM21 19h1v1h-1zM31 19h1v1h-1zM34 19h4v1h-4zM7 20h1v1h-1zM31 20h1v1h-1zM34 20h4v1h-4zM23 22h1v1h-1zM6 23h1v1h-1zM23 23h1v1h-1zM29 23h1v1h-1zM4 24h1v1h-1zM29 24h2v1h-2zM4 25h1v1h-1zM22 25h1v1h-1zM30 25h1v1h-1zM33 25h1v1h-1zM4 26h1v1h-1zM33 26h5v1h-5zM4 27h1v1h-1zM33 27h5v1h-5zM4 28h1v1h-1zM33 28h5v1h-5zM4 29h1v1h-1zM33 29h5v1h-5z"/>
<path fill="rgb(112,112,112)" d="M0 0h4v1h-4zM25 0h1v1h-1zM0 1h4v1h-4zM25 1h1v1h-1zM0 2h4v1h-4zM25 2h1v1h-1zM0 3h4v1h-4zM25 3h1v1h-1zM25 4h1v1h-1zM28 4h1v1h-1zM32 4h2v1h-2zM6 5h3v1h-3zM12 5h1v1h-1zM14 5h1v1h-1zM25 5h1v1h-1zM28 5h1v1h-1zM4 6h1v1h-1zM12 6h1v1h-1zM16 6h1v1h-1zM28 6h1v1h-1zM32 6h1v1h-1zM11 7h1v1h-1zM14 7h1v1h-1zM28 7h1v1h-1zM32 7h1v1h-1zM11 8h1v1h-1zM10 9h2v1h-2zM9 10h3v1h-3zM26 10h2v1h-2zM10 11h2v1h-2zM17 11h1v1h-1zM19 11h1v1h-1zM26 11h1v1h-1zM8 12h1v1h-1zM10 12h1v1h-1zM29 12h1v1h-1zM7 13h1v1h-1zM18 13h1v1h-1zM20 13h1v1h-1zM27 13h3v1h-3zM33 13h1v1h-1zM27 14h2v1h-2zM33 14h1v1h-1zM33 15h1v1h-1zM20 16h1v1h-1zM32 16h1v1h-1zM4 17h1v1h-1zM6 17h1v1h-1zM4 18h2v1h-2zM30 18h2v1h-2zM30 19h1v1h-1zM21 20h1v1h-1zM30 20h1v1h-1zM7 21h1v1h-1zM30 21h1v1h-1zM34 21h4v1h-4zM4 22h1v1h-1zM21 22h1v1h-1zM30 22h1v1h-1zM34 22h4v1h-4zM4 23h1v1h-1zM21 23h1v1h-1zM30 23h1v1h-1zM34 23h4v1h-4zM6 24h1v1h-1zM23 24h1v1h-1zM6 25h1v1h-1zM23 25h1v1h-1zM34 25h4v1h-4zM22 26h1v1h-1zM22 27h1v1h-1zM22 28h1v1h-1zM22 29h1v1h-1z"/>
<path fill="rgb(128,128,128)" d="M14 0h1v1h-1zM26 0h1v1h-1zM28 0h1v1h-1zM32 0h2v1h-2zM14 1h1v1h-1zM26 1h1v1h-1zM28 1h1v1h-1zM32 1h2v1h-2zM14 2h1v1h-1zM26 2h1v1h-1zM28 2h1v1h-1zM32 2h2v1h-2zM14 3h1v1h-1zM26 3h1v1h-1zM28 3h1v1h-1zM32 3h2v1h-2zM12 4h1v1h-1zM14 4h1v1h-1zM26 4h1v1h-1zM11 5h1v1h-1zM5 6h2v1h-2zM8 6h1v1h-1zM11 6h1v1h-1zM14 6h1v1h-1zM4 7h1v1h-1zM12 7h1v1h-1zM15 7h2v1h-2zM10 8h1v1h-1zM12 8h1v1h-1zM14 8h1v1h-1zM28 8h1v1h-1zM32 8h1v1h-1zM12 9h1v1h-1zM28 9h1v1h-1zM32 9h1v1h-1zM12 10h1v1h-1zM28 10h1v1h-1zM32 10h1v1h-1zM8 11h1v1h-1zM12 11h1v1h-1zM16 11h1v1h-1zM20 11h1v1h-1zM27 11h1v1h-1zM29 11h1v1h-1zM32 11h1v1h-1zM7 12h1v1h-1zM11 12h2v1h-2zM16 12h1v1h-1zM19 12h1v1h-1zM27 12h2v1h-2zM30 12h1v1h-1zM32 12h1v1h-1zM9 13h3v1h-3zM16 13h1v1h-1zM30 13h1v1h-1zM8 14h1v1h-1zM18 14h1v1h-1zM30 14h1v1h-1zM30 15h1v1h-1zM32 15h1v1h-1zM6 16h1v1h-1zM30 16h1v1h-1zM5 17h1v1h-1zM20 17h1v1h-1zM30 17h2v1h-2zM8 18h1v1h-1zM4 19h1v1h-1zM4 20h1v1h-1zM4 21h1v1h-1zM21 21h1v1h-1zM7 22h1v1h-1zM21 24h1v1h-1zM34 24h4v1h-4zM6 26h1v1h-1zM21 26h1v1h-1zM23 26h1v1h-1zM6 27h1v1h-1zM21 27h1v1h-1zM23 27h1v1h-1zM6 28h1v1h-1zM21 28h1v1h-1zM23 28h1v1h-1zM6 29h1v1h-1zM21 29h1v1h-1zM23 29h1v1h-1z"/>
<path fill="rgb(143,143,143)" d="M9 0h1v1h-1zM12 0h2v1h-2zM29 0h1v1h-1zM31 0h1v1h-1zM9 1h1v1h-1zM12 1h2v1h-2zM29 1h1v1h-1zM31 1h1v1h-1zM9 2h1v1h-1zM12 2h2v1h-2zM29 2h1v1h-1zM31 2h1v1h-1zM9 3h1v1h-1zM12 3h2v1h-2zM29 3h1v1h-1zM31 3h1v1h-1zM0 4h4v1h-4zM9 4h1v1h-1zM11 4h1v1h-1zM13 4h1v1h-1zM29 4h1v1h-1zM31 4h1v1h-1zM0 5h4v1h-4zM13 5h1v1h-1zM29 5h1v1h-1zM31 5h1v1h-1zM0 6h4v1h-4zM7 6h1v1h-1zM31 6h1v1h-1zM0 7h4v1h-4zM6 7h1v1h-1zM8 7h1v1h-1zM10 7h1v1h-1zM13 7h1v1h-1zM31 7h1v1h-1zM4 8h1v1h-1zM9 8h1v1h-1zM13 8h1v1h-1zM15 8h1v1h-1zM31 8h1v1h-1zM9 9h1v1h-1zM13 9h2v1h-2zM31 9h1v1h-1zM8 10h1v1h-1zM13 10h2v1h-2zM16 10h1v1h-1zM29 10h1v1h-1zM31 10h1v1h-1zM7 11h1v1h-1zM13 11h1v1h-1zM28 11h1v1h-1zM30 11h2v1h-2zM13 12h1v1h-1zM17 12h1v1h-1zM20 12h1v1h-1zM31 12h1v1h-1zM6 13h1v1h-1zM12 13h2v1h-2zM17 13h1v1h-1zM19 13h1v1h-1zM31 13h2v1h-2zM6 14h1v1h-1zM9 14h1v1h-1zM11 14h3v1h-3zM16 14h1v1h-1zM19 14h1v1h-1zM31 14h2v1h-2zM6 15h1v1h-1zM8 15h2v1h-2zM12 15h1v1h-1zM16 15h1v1h-1zM19 15h1v1h-1zM31 15h1v1h-1zM4 16h1v1h-1zM12 16h1v1h-1zM31 16h1v1h-1zM8 17h1v1h-1zM20 18h1v1h-1zM8 19h1v1h-1zM8 20h1v1h-1zM8 21h1v1h-1zM8 22h1v1h-1zM0 23h4v1h-4zM7 23h1v1h-1zM0 24h4v1h-4zM0 25h4v1h-4zM21 25h1v1h-1zM0 26h4v1h-4zM0 27h4v1h-4zM0 28h4v1h-4zM0 29h4v1h-4z"/>
<path fill="rgb(159,159,159)" d="M11 0h1v1h-1zM11 1h1v1h-1zM11 2h1v1h-1zM11 3h1v1h-1zM9 5h2v1h-2zM10 6h1v1h-1zM13 6h1v1h-1zM29 6h1v1h-1zM5 7h1v1h-1zM7 7h1v1h-1zM9 7h1v1h-1zM0 8h4v1h-4zM6 8h1v1h-1zM16 8h1v1h-1zM8 9h1v1h-1zM15 9h2v1h-2zM29 9h1v1h-1zM6 10h1v1h-1zM30 10h1v1h-1zM6 11h1v1h-1zM14 11h1v1h-1zM6 12h1v1h-1zM14 12h1v1h-1zM14 13h1v1h-1zM10 14h1v1h-1zM17 14h1v1h-1zM4 15h1v1h-1zM10 15h1v1h-1zM13 15h3v1h-3zM17 15h2v1h-2zM0 16h4v1h-4zM5 16h1v1h-1zM8 16h1v1h-1zM15 16h2v1h-2zM18 16h2v1h-2zM0 17h4v1h-4zM12 17h1v1h-1zM12 18h1v1h-1zM20 19h1v1h-1zM0 22h4v1h-4zM8 23h2v1h-2zM20 23h1v1h-1zM7 24h1v1h-1zM20 24h1v1h-1zM14 26h1v1h-1zM14 27h1v1h-1zM14 28h1v1h-1zM14 29h1v1h-1z"/>
<path fill="rgb(175,175,175)" d="M10 0h1v1h-1zM30 0h1v1h-1zM10 1h1v1h-1zM30 1h1v1h-1zM10 2h1v1h-1zM30 2h1v1h-1zM10 3h1v1h-1zM30 3h1v1h-1zM10 4h1v1h-1zM30 4h1v1h-1zM30 5h1v1h-1zM9 6h1v1h-1zM30 6h1v1h-1zM29 7h2v1h-2zM8 8h1v1h-1zM29 8h2v1h-2zM4 9h1v1h-1zM6 9h1v1h-1zM30 9h1v1h-1zM7 10h1v1h-1zM15 10h1v1h-1zM5 13h1v1h-1zM5 14h1v1h-1zM14 14h2v1h-2zM0 15h4v1h-4zM11 15h1v1h-1zM9 16h1v1h-1zM11 16h1v1h-1zM13 16h2v1h-2zM17 16h1v1h-1zM13 17h1v1h-1zM15 17h1v1h-1zM18 17h2v1h-2zM0 18h4v1h-4zM13 18h1v1h-1zM13 19h1v1h-1zM20 20h1v1h-1zM0 21h4v1h-4zM9 22h1v1h-1zM13 22h1v1h-1zM13 23h1v1h-1zM8 24h2v1h-2zM13 24h1v1h-1zM7 25h1v1h-1zM13 25h2v1h-2zM20 25h1v1h-1zM7 26h1v1h-1zM13 26h1v1h-1zM15 26h2v1h-2zM7 27h1v1h-1zM13 27h1v1h-1zM15 27h2v1h-2zM7 28h1v1h-1zM13 28h1v1h-1zM15 28h2v1h-2zM7 29h1v1h-1zM13 29h1v1h-1zM15 29h2v1h-2z"/>
<path fill="rgb(191,191,191)" d="M5 8h1v1h-1zM5 9h1v1h-1zM15 11h1v1h-1zM5 12h1v1h-1zM15 12h1v1h-1zM15 13h1v1h-1zM0 14h5v1h-5zM5 15h1v1h-1zM10 16h1v1h-1zM9 17h1v1h-1zM11 17h1v1h-1zM14 17h1v1h-1zM16 17h2v1h-2zM9 18h1v1h-1zM11 18h1v1h-1zM15 18h1v1h-1zM19 18h1v1h-1zM11 19h2v1h-2zM13 20h1v1h-1zM9 21h1v1h-1zM12 21h2v1h-2zM10 22h1v1h-1zM12 22h1v1h-1zM20 22h1v1h-1zM10 23h1v1h-1zM18 23h1v1h-1zM14 24h1v1h-1zM18 24h1v1h-1zM9 25h1v1h-1zM12 25h1v1h-1zM15 25h4v1h-4zM12 26h1v1h-1zM17 26h1v1h-1zM19 26h2v1h-2zM12 27h1v1h-1zM17 27h1v1h-1zM19 27h2v1h-2zM12 28h1v1h-1zM17 28h1v1h-1zM19 28h2v1h-2zM12 29h1v1h-1zM17 29h1v1h-1zM19 29h2v1h-2z"/>
<path fill="rgb(207,207,207)" d="M7 8h1v1h-1zM7 9h1v1h-1zM4 10h2v1h-2zM5 11h1v1h-1zM0 13h5v1h-5zM10 17h1v1h-1zM10 18h1v1h-1zM14 18h1v1h-1zM16 18h2v1h-2zM0 19h4v1h-4zM9 19h1v1h-1zM14 19h2v1h-2zM19 19h1v1h-1zM0 20h4v1h-4zM9 20h1v1h-1zM11 20h2v1h-2zM14 20h1v1h-1zM10 21h2v1h-2zM14 21h1v1h-1zM20 21h1v1h-1zM11 22h1v1h-1zM14 22h2v1h-2zM18 22h1v1h-1zM12 23h1v1h-1zM14 23h2v1h-2zM17 23h1v1h-1zM10 24h1v1h-1zM12 24h1v1h-1zM15 24h1v1h-1zM17 24h1v1h-1zM8 25h1v1h-1zM10 25h1v1h-1zM19 25h1v1h-1zM9 26h2v1h-2zM18 26h1v1h-1zM9 27h2v1h-2zM18 27h1v1h-1zM9 28h2v1h-2zM18 28h1v1h-1zM9 29h2v1h-2zM18 29h1v1h-1z"/>
<path fill="rgb(223,223,223)" d="M0 9h4v1h-4zM4 11h1v1h-1zM0 12h5v1h-5zM18 18h1v1h-1zM10 19h1v1h-1zM16 19h2v1h-2zM10 20h1v1h-1zM15 20h1v1h-1zM17 20h1v1h-1zM19 20h1v1h-1zM15 21h1v1h-1zM17 21h3v1h-3zM17 22h1v1h-1zM19 22h1v1h-1zM11 23h1v1h-1zM16 23h1v1h-1zM19 23h1v1h-1zM11 24h1v1h-1zM16 24h1v1h-1zM19 24h1v1h-1zM11 25h1v1h-1zM8 26h1v1h-1zM11 26h1v1h-1zM8 27h1v1h-1zM11 27h1v1h-1zM8 28h1v1h-1zM11 28h1v1h-1zM8 29h1v1h-1zM11 29h1v1h-1z"/>
<path fill="rgb(239,239,239)" d="M0 10h4v1h-4zM0 11h4v1h-4zM18 19h1v1h-1zM16 20h1v1h-1zM18 20h1v1h-1zM16 22h1v1h-1z"/>
<path fill="rgb(255,255,255)" d="M16 21h1v1h-1z"/>
</g></g>
</svg>
<svg x="12" y="890" width="734" height="694" viewBox="0 0 734 694" overflow="hidden">
<rect width="734" height="694" fill="#7f7"/>
<g filter="url(#fc)"><g transform="translate(-68.812 -86.750) scale(22.9375 28.9167)" shape-rendering="crispEdges">
<rect width="38" height="30" fill="#888"/>
<path fill="rgb(48,48,48)" d="M0 6h4v1h-4zM8 9h1v1h-1zM16 9h1v1h-1zM8 10h1v1h-1zM16 10h1v1h-1zM21 10h1v1h-1zM21 11h1v1h-1zM20 14h1v1h-1zM6 15h1v1h-1zM0 18h4v1h-4zM0 19h4v1h-4zM0 20h4v1h-4zM24 21h1v1h-1zM20 22h1v1h-1zM24 22h1v1h-1zM20 23h1v1h-1zM0 25h4v1h-4zM0 26h4v1h-4zM21 26h1v1h-1zM30 26h1v1h-1zM0 27h4v1h-4zM21 27h1v1h-1zM30 27h1v1h-1zM0 28h4v1h-4zM21 28h1v1h-1zM30 28h1v1h-1zM0 29h4v1h-4zM21 29h1v1h-1zM30 29h1v1h-1z"/>
<path fill="rgb(64,64,64)" d="M4 0h1v1h-1zM15 0h1v1h-1zM4 1h1v1h-1zM15 1h1v1h-1zM4 2h1v1h-1zM15 2h1v1h-1zM4 3h1v1h-1zM15 3h1v1h-1zM14 4h1v1h-1zM21 4h1v1h-1zM26 4h1v1h-1zM0 5h4v1h-4zM17 6h1v1h-1zM31 6h1v1h-1zM0 7h4v1h-4zM17 7h1v1h-1zM20 7h1v1h-1zM0 8h4v1h-4zM8 8h1v1h-1zM16 8h1v1h-1zM0 9h4v1h-4zM21 9h1v1h-1zM21 12h1v1h-1zM7 13h1v1h-1zM20 13h1v1h-1zM6 14h1v1h-1zM33 15h1v1h-1zM6 16h1v1h-1zM33 16h1v1h-1zM0 17h4v1h-4zM21 17h1v1h-1zM23 17h1v1h-1zM21 18h1v1h-1zM23 18h1v1h-1zM19 19h1v1h-1zM4 20h1v1h-1zM20 20h1v1h-1zM31 20h1v1h-1zM0 21h5v1h-5zM20 21h3v1h-3zM0 22h5v1h-5zM24 23h1v1h-1zM30 23h1v1h-1zM0 24h4v1h-4zM12 24h1v1h-1zM20 24h2v1h-2zM21 25h1v1h-1zM30 25h1v1h-1zM24 26h1v1h-1zM24 27h1v1h-1zM24 28h1v1h-1zM24 29h1v1h-1z"/>
<path fill="rgb(80,80,80)" d="M14 0h1v1h-1zM21 0h1v1h-1zM26 0h1v1h-1zM31 0h1v1h-1zM14 1h1v1h-1zM21 1h1v1h-1zM26 1h1v1h-1zM31 1h1v1h-1zM14 2h1v1h-1zM21 2h1v1h-1zM26 2h1v1h-1zM31 2h1v1h-1zM14 3h1v1h-1zM21 3h1v1h-1zM26 3h1v1h-1zM31 3h1v1h-1zM10 4h1v1h-1zM15 4h1v1h-1zM30 4h2v1h-2zM34 4h4v1h-4zM10 5h1v1h-1zM14 5h1v1h-1zM21 5h1v1h-1zM30 5h2v1h-2zM10 6h1v1h-1zM14 6h1v1h-1zM21 6h1v1h-1zM30 6h1v1h-1zM32 6h1v1h-1zM21 7h1v1h-1zM30 7h3v1h-3zM10 8h1v1h-1zM20 8h2v1h-2zM30 8h1v1h-1zM32 8h2v1h-2zM18 9h1v1h-1zM31 9h2v1h-2zM0 10h4v1h-4zM6 10h1v1h-1zM33 10h1v1h-1zM6 11h1v1h-1zM8 11h1v1h-1zM16 11h1v1h-1zM22 11h1v1h-1zM32 11h6v1h-6zM6 12h1v1h-1zM20 12h1v1h-1zM22 12h1v1h-1zM32 12h2v1h-2zM5 13h2v1h-2zM18 13h1v1h-1zM21 13h2v1h-2zM33 13h5v1h-5zM5 14h1v1h-1zM10 14h1v1h-1zM15 14h1v1h-1zM18 14h1v1h-1zM22 14h1v1h-1zM33 14h5v1h-5zM10 15h1v1h-1zM15 15h1v1h-1zM18 15h1v1h-1zM20 15h1v1h-1zM22 15h1v1h-1zM10 16h1v1h-1zM18 16h1v1h-1zM21 16h3v1h-3zM31 16h1v1h-1zM6 17h1v1h-1zM10 17h1v1h-1zM18 17h2v1h-2zM33 17h1v1h-1zM4 18h1v1h-1zM10 18h1v1h-1zM12 18h1v1h-1zM18 18h3v1h-3zM4 19h1v1h-1zM12 19h1v1h-1zM20 19h2v1h-2zM23 19h1v1h-1zM19 20h1v1h-1zM21 20h1v1h-1zM23 20h2v1h-2zM30 21h2v1h-2zM21 22h1v1h-1zM30 22h2v1h-2zM0 23h5v1h-5zM12 23h1v1h-1zM21 23h1v1h-1zM31 23h1v1h-1zM4 24h1v1h-1zM17 24h1v1h-1zM23 24h2v1h-2zM31 24h1v1h-1zM4 25h1v1h-1zM12 25h1v1h-1zM23 25h2v1h-2zM4 26h1v1h-1zM11 26h2v1h-2zM19 26h1v1h-1zM23 26h1v1h-1zM4 27h1v1h-1zM11 27h2v1h-2zM19 27h1v1h-1zM23 27h1v1h-1zM4 28h1v1h-1zM11 28h2v1h-2zM19 28h1v1h-1zM23 28h1v1h-1zM4 29h1v1h-1zM11 29h2v1h-2zM19 29h1v1h-1zM23 29h1v1h-1z"/>
<path fill="rgb(96,96,96)" d="M10 0h1v1h-1zM16 0h1v1h-1zM18 0h1v1h-1zM30 0h1v1h-1zM34 0h4v1h-4zM10 1h1v1h-1zM16 1h1v1h-1zM18 1h1v1h-1zM30 1h1v1h-1zM34 1h4v1h-4zM10 2h1v1h-1zM16 2h1v1h-1zM18 2h1v1h-1zM30 2h1v1h-1zM34 2h4v1h-4zM10 3h1v1h-1zM16 3h1v1h-1zM18 3h1v1h-1zM30 3h1v1h-1zM34 3h4v1h-4zM0 4h5v1h-5zM6 5h1v1h-1zM17 5h1v1h-1zM20 5h1v1h-1zM26 5h1v1h-1zM32 5h1v1h-1zM34 5h4v1h-4zM20 6h1v1h-1zM25 6h1v1h-1zM9 7h2v1h-2zM14 7h1v1h-1zM33 7h1v1h-1zM9 8h1v1h-1zM17 8h2v1h-2zM31 8h1v1h-1zM20 9h1v1h-1zM33 9h5v1h-5zM5 10h1v1h-1zM20 10h1v1h-1zM22 10h1v1h-1zM32 10h1v1h-1zM34 10h4v1h-4zM4 11h2v1h-2zM15 11h1v1h-1zM20 11h1v1h-1zM4 12h2v1h-2zM7 12h2v1h-2zM15 12h2v1h-2zM34 12h4v1h-4zM10 13h1v1h-1zM15 13h1v1h-1zM28 13h1v1h-1zM17 14h1v1h-1zM21 14h1v1h-1zM28 14h1v1h-1zM32 14h1v1h-1zM21 15h1v1h-1zM23 15h1v1h-1zM28 15h1v1h-1zM31 15h1v1h-1zM0 16h4v1h-4zM15 16h1v1h-1zM19 16h2v1h-2zM28 16h1v1h-1zM4 17h1v1h-1zM12 17h1v1h-1zM20 17h1v1h-1zM28 17h1v1h-1zM31 17h1v1h-1zM6 18h1v1h-1zM24 18h1v1h-1zM28 18h1v1h-1zM31 18h1v1h-1zM33 18h1v1h-1zM10 19h1v1h-1zM18 19h1v1h-1zM24 19h1v1h-1zM31 19h3v1h-3zM10 20h1v1h-1zM22 20h1v1h-1zM32 20h1v1h-1zM5 21h1v1h-1zM11 21h1v1h-1zM16 21h2v1h-2zM19 21h1v1h-1zM12 22h1v1h-1zM16 22h2v1h-2zM17 23h1v1h-1zM19 23h1v1h-1zM30 24h1v1h-1zM9 25h1v1h-1zM14 25h1v1h-1zM17 25h1v1h-1zM19 25h1v1h-1zM31 25h1v1h-1zM31 26h1v1h-1zM31 27h1v1h-1zM31 28h1v1h-1zM31 29h1v1h-1z"/>
<path fill="rgb(112,112,112)" d="M6 0h1v1h-1zM12 0h1v1h-1zM20 0h1v1h-1zM33 0h1v1h-1zM6 1h1v1h-1zM12 1h1v1h-1zM20 1h1v1h-1zM33 1h1v1h-1zM6 2h1v1h-1zM12 2h1v1h-1zM20 2h1v1h-1zM33 2h1v1h-1zM6 3h1v1h-1zM12 3h1v1h-1zM20 3h1v1h-1zM33 3h1v1h-1zM6 4h2v1h-2zM11 4h2v1h-2zM17 4h2v1h-2zM20 4h1v1h-1zM28 4h1v1h-1zM33 4h1v1h-1zM4 5h1v1h-1zM11 5h1v1h-1zM13 5h1v1h-1zM15 5h1v1h-1zM19 5h1v1h-1zM25 5h1v1h-1zM33 5h1v1h-1zM5 6h1v1h-1zM11 6h1v1h-1zM13 6h1v1h-1zM26 6h1v1h-1zM33 6h5v1h-5zM8 7h1v1h-1zM11 7h1v1h-1zM13 7h1v1h-1zM16 7h1v1h-1zM18 7h1v1h-1zM25 7h2v1h-2zM34 7h4v1h-4zM5 8h1v1h-1zM14 8h1v1h-1zM23 8h1v1h-1zM34 8h4v1h-4zM5 9h3v1h-3zM10 9h1v1h-1zM30 9h1v1h-1zM4 10h1v1h-1zM9 10h1v1h-1zM15 10h1v1h-1zM17 10h2v1h-2zM30 10h2v1h-2zM0 11h4v1h-4zM7 11h1v1h-1zM9 11h1v1h-1zM12 11h1v1h-1zM17 11h1v1h-1zM28 11h1v1h-1zM30 11h1v1h-1zM10 12h1v1h-1zM12 12h2v1h-2zM17 12h2v1h-2zM28 12h2v1h-2zM4 13h1v1h-1zM16 13h2v1h-2zM29 13h1v1h-1zM32 13h1v1h-1zM7 14h1v1h-1zM11 14h1v1h-1zM23 14h1v1h-1zM29 14h1v1h-1zM4 15h2v1h-2zM13 15h1v1h-1zM17 15h1v1h-1zM19 15h1v1h-1zM32 15h1v1h-1zM34 15h4v1h-4zM4 16h1v1h-1zM13 16h2v1h-2zM32 16h1v1h-1zM11 17h1v1h-1zM14 17h2v1h-2zM24 17h1v1h-1zM32 17h1v1h-1zM5 18h1v1h-1zM14 18h2v1h-2zM30 18h1v1h-1zM32 18h1v1h-1zM5 19h2v1h-2zM14 19h1v1h-1zM16 19h1v1h-1zM22 19h1v1h-1zM26 19h1v1h-1zM28 19h1v1h-1zM30 19h1v1h-1zM5 20h2v1h-2zM11 20h2v1h-2zM16 20h3v1h-3zM30 20h1v1h-1zM12 21h1v1h-1zM25 21h1v1h-1zM32 21h1v1h-1zM5 22h1v1h-1zM11 22h1v1h-1zM19 22h1v1h-1zM22 22h1v1h-1zM5 23h1v1h-1zM8 23h2v1h-2zM13 23h2v1h-2zM23 23h1v1h-1zM9 24h1v1h-1zM11 24h1v1h-1zM14 24h1v1h-1zM16 24h1v1h-1zM19 24h1v1h-1zM25 24h1v1h-1zM27 24h1v1h-1zM11 25h1v1h-1zM16 25h1v1h-1zM20 25h1v1h-1zM27 25h1v1h-1zM34 25h4v1h-4zM9 26h1v1h-1zM14 26h3v1h-3zM20 26h1v1h-1zM9 27h1v1h-1zM14 27h3v1h-3zM20 27h1v1h-1zM9 28h1v1h-1zM14 28h3v1h-3zM20 28h1v1h-1zM9 29h1v1h-1zM14 29h3v1h-3zM20 29h1v1h-1z"/>
<path fill="rgb(128,128,128)" d="M0 0h4v1h-4zM5 0h1v1h-1zM7 0h1v1h-1zM11 0h1v1h-1zM13 0h1v1h-1zM17 0h1v1h-1zM19 0h1v1h-1zM27 0h2v1h-2zM0 1h4v1h-4zM5 1h1v1h-1zM7 1h1v1h-1zM11 1h1v1h-1zM13 1h1v1h-1zM17 1h1v1h-1zM19 1h1v1h-1zM27 1h2v1h-2zM0 2h4v1h-4zM5 2h1v1h-1zM7 2h1v1h-1zM11 2h1v1h-1zM13 2h1v1h-1zM17 2h1v1h-1zM19 2h1v1h-1zM27 2h2v1h-2zM0 3h4v1h-4zM5 3h1v1h-1zM7 3h1v1h-1zM11 3h1v1h-1zM13 3h1v1h-1zM17 3h1v1h-1zM19 3h1v1h-1zM27 3h2v1h-2zM13 4h1v1h-1zM16 4h1v1h-1zM19 4h1v1h-1zM32 4h1v1h-1zM5 5h1v1h-1zM7 5h1v1h-1zM12 5h1v1h-1zM16 5h1v1h-1zM18 5h1v1h-1zM22 5h1v1h-1zM28 5h1v1h-1zM4 6h1v1h-1zM6 6h4v1h-4zM15 6h2v1h-2zM18 6h2v1h-2zM22 6h1v1h-1zM24 6h1v1h-1zM27 6h1v1h-1zM4 7h3v1h-3zM12 7h1v1h-1zM22 7h1v1h-1zM24 7h1v1h-1zM27 7h1v1h-1zM4 8h1v1h-1zM6 8h2v1h-2zM11 8h3v1h-3zM22 8h1v1h-1zM24 8h4v1h-4zM4 9h1v1h-1zM9 9h1v1h-1zM11 9h4v1h-4zM17 9h1v1h-1zM22 9h3v1h-3zM26 9h2v1h-2zM29 9h1v1h-1zM7 10h1v1h-1zM10 10h5v1h-5zM19 10h1v1h-1zM23 10h2v1h-2zM27 10h1v1h-1zM29 10h1v1h-1zM10 11h2v1h-2zM13 11h1v1h-1zM18 11h2v1h-2zM23 11h2v1h-2zM27 11h1v1h-1zM29 11h1v1h-1zM31 11h1v1h-1zM0 12h4v1h-4zM9 12h1v1h-1zM11 12h1v1h-1zM19 12h1v1h-1zM24 12h1v1h-1zM27 12h1v1h-1zM30 12h2v1h-2zM0 13h4v1h-4zM8 13h2v1h-2zM11 13h4v1h-4zM19 13h1v1h-1zM24 13h1v1h-1zM30 13h2v1h-2zM0 14h5v1h-5zM12 14h3v1h-3zM16 14h1v1h-1zM24 14h1v1h-1zM31 14h1v1h-1zM0 15h4v1h-4zM7 15h1v1h-1zM9 15h1v1h-1zM11 15h1v1h-1zM14 15h1v1h-1zM24 15h1v1h-1zM27 15h1v1h-1zM8 16h2v1h-2zM11 16h2v1h-2zM17 16h1v1h-1zM24 16h1v1h-1zM27 16h1v1h-1zM34 16h4v1h-4zM5 17h1v1h-1zM16 17h2v1h-2zM22 17h1v1h-1zM26 17h2v1h-2zM30 17h1v1h-1zM11 18h1v1h-1zM16 18h2v1h-2zM22 18h1v1h-1zM26 18h2v1h-2zM11 19h1v1h-1zM15 19h1v1h-1zM17 19h1v1h-1zM27 19h1v1h-1zM13 20h1v1h-1zM26 20h2v1h-2zM33 20h1v1h-1zM6 21h2v1h-2zM10 21h1v1h-1zM13 21h2v1h-2zM18 21h1v1h-1zM26 21h2v1h-2zM7 22h2v1h-2zM10 22h1v1h-1zM13 22h2v1h-2zM18 22h1v1h-1zM25 22h4v1h-4zM32 22h1v1h-1zM7 23h1v1h-1zM11 23h1v1h-1zM16 23h1v1h-1zM18 23h1v1h-1zM26 23h2v1h-2zM5 24h1v1h-1zM7 24h2v1h-2zM13 24h1v1h-1zM18 24h1v1h-1zM22 24h1v1h-1zM26 24h1v1h-1zM5 25h1v1h-1zM8 25h1v1h-1zM13 25h1v1h-1zM15 25h1v1h-1zM18 25h1v1h-1zM25 25h2v1h-2zM28 25h1v1h-1zM8 26h1v1h-1zM13 26h1v1h-1zM17 26h1v1h-1zM22 26h1v1h-1zM25 26h3v1h-3zM33 26h5v1h-5zM8 27h1v1h-1zM13 27h1v1h-1zM17 27h1v1h-1zM22 27h1v1h-1zM25 27h3v1h-3zM33 27h5v1h-5zM8 28h1v1h-1zM13 28h1v1h-1zM17 28h1v1h-1zM22 28h1v1h-1zM25 28h3v1h-3zM33 28h5v1h-5zM8 29h1v1h-1zM13 29h1v1h-1zM17 29h1v1h-1zM22 29h1v1h-1zM25 29h3v1h-3zM33 29h5v1h-5z"/>
<path fill="rgb(143,143,143)" d="M8 0h1v1h-1zM22 0h4v1h-4zM32 0h1v1h-1zM8 1h1v1h-1zM22 1h4v1h-4zM32 1h1v1h-1zM8 2h1v1h-1zM22 2h4v1h-4zM32 2h1v1h-1zM8 3h1v1h-1zM22 3h4v1h-4zM32 3h1v1h-1zM5 4h1v1h-1zM8 4h1v1h-1zM22 4h4v1h-4zM27 4h1v1h-1zM8 5h2v1h-2zM23 5h2v1h-2zM27 5h1v1h-1zM12 6h1v1h-1zM23 6h1v1h-1zM29 6h1v1h-1zM7 7h1v1h-1zM15 7h1v1h-1zM19 7h1v1h-1zM23 7h1v1h-1zM29 7h1v1h-1zM19 8h1v1h-1zM29 8h1v1h-1zM15 9h1v1h-1zM19 9h1v1h-1zM25 9h1v1h-1zM28 9h1v1h-1zM26 10h1v1h-1zM28 10h1v1h-1zM14 11h1v1h-1zM25 11h2v1h-2zM14 12h1v1h-1zM23 12h1v1h-1zM25 12h2v1h-2zM23 13h1v1h-1zM25 13h3v1h-3zM8 14h2v1h-2zM19 14h1v1h-1zM25 14h1v1h-1zM27 14h1v1h-1zM30 14h1v1h-1zM8 15h1v1h-1zM12 15h1v1h-1zM16 15h1v1h-1zM25 15h2v1h-2zM29 15h2v1h-2zM5 16h1v1h-1zM7 16h1v1h-1zM16 16h1v1h-1zM25 16h2v1h-2zM30 16h1v1h-1zM7 17h3v1h-3zM13 17h1v1h-1zM25 17h1v1h-1zM29 17h1v1h-1zM34 17h4v1h-4zM7 18h1v1h-1zM9 18h1v1h-1zM25 18h1v1h-1zM7 19h1v1h-1zM9 19h1v1h-1zM13 19h1v1h-1zM25 19h1v1h-1zM7 20h1v1h-1zM9 20h1v1h-1zM14 20h2v1h-2zM25 20h1v1h-1zM28 20h2v1h-2zM9 21h1v1h-1zM15 21h1v1h-1zM23 21h1v1h-1zM28 21h2v1h-2zM33 21h5v1h-5zM6 22h1v1h-1zM9 22h1v1h-1zM23 22h1v1h-1zM29 22h1v1h-1zM33 22h1v1h-1zM10 23h1v1h-1zM15 23h1v1h-1zM22 23h1v1h-1zM25 23h1v1h-1zM28 23h2v1h-2zM32 23h1v1h-1zM34 23h4v1h-4zM15 24h1v1h-1zM28 24h2v1h-2zM32 24h1v1h-1zM34 24h4v1h-4zM22 25h1v1h-1zM33 25h1v1h-1zM5 26h2v1h-2zM10 26h1v1h-1zM18 26h1v1h-1zM28 26h2v1h-2zM5 27h2v1h-2zM10 27h1v1h-1zM18 27h1v1h-1zM28 27h2v1h-2zM5 28h2v1h-2zM10 28h1v1h-1zM18 28h1v1h-1zM28 28h2v1h-2zM5 29h2v1h-2zM10 29h1v1h-1zM18 29h1v1h-1zM28 29h2v1h-2z"/>
<path fill="rgb(159,159,159)" d="M29 0h1v1h-1zM29 1h1v1h-1zM29 2h1v1h-1zM29 3h1v1h-1zM29 4h1v1h-1zM29 5h1v1h-1zM28 6h1v1h-1zM28 7h1v1h-1zM15 8h1v1h-1zM28 8h1v1h-1zM25 10h1v1h-1zM26 14h1v1h-1zM29 16h1v1h-1zM8 18h1v1h-1zM13 18h1v1h-1zM29 18h1v1h-1zM34 18h4v1h-4zM8 19h1v1h-1zM29 19h1v1h-1zM8 20h1v1h-1zM34 20h4v1h-4zM8 21h1v1h-1zM15 22h1v1h-1zM34 22h4v1h-4zM6 23h1v1h-1zM33 23h1v1h-1zM6 24h1v1h-1zM10 24h1v1h-1zM33 24h1v1h-1zM6 25h2v1h-2zM10 25h1v1h-1zM29 25h1v1h-1zM32 25h1v1h-1zM7 26h1v1h-1zM32 26h1v1h-1zM7 27h1v1h-1zM32 27h1v1h-1zM7 28h1v1h-1zM32 28h1v1h-1zM7 29h1v1h-1zM32 29h1v1h-1z"/>
<path fill="rgb(175,175,175)" d="M9 0h1v1h-1zM9 1h1v1h-1zM9 2h1v1h-1zM9 3h1v1h-1zM9 4h1v1h-1zM34 19h4v1h-4z"/>
</g></g>
</svg>
<svg x="1287" y="890" width="734" height="694" viewBox="0 0 734 694" overflow="hidden">
<rect width="734" height="694" fill="#7f7"/>
<g filter="url(#fd)"><g transform="translate(-68.812 -86.750) scale(22.9375 28.9167)" shape-rendering="crispEdges">
<rect width="38" height="30" fill="#888"/>
<path fill="rgb(32,32,32)" d="M7 9h1v1h-1zM7 10h1v1h-1zM6 13h1v1h-1zM5 16h1v1h-1zM5 17h1v1h-1zM23 19h1v1h-1zM0 22h4v1h-4z"/>
<path fill="rgb(48,48,48)" d="M25 6h1v1h-1zM8 10h1v1h-1zM8 11h1v1h-1zM21 12h1v1h-1zM0 14h5v1h-5zM20 14h1v1h-1zM4 16h1v1h-1zM6 17h1v1h-1zM33 17h1v1h-1zM5 18h1v1h-1zM0 21h4v1h-4zM20 22h1v1h-1zM34 25h4v1h-4zM30 26h1v1h-1zM34 26h4v1h-4zM30 27h1v1h-1zM34 27h4v1h-4zM30 28h1v1h-1zM34 28h4v1h-4zM30 29h1v1h-1zM34 29h4v1h-4z"/>
<path fill="rgb(64,64,64)" d="M26 5h1v1h-1zM26 6h1v1h-1zM9 7h2v1h-2zM13 7h1v1h-1zM24 7h2v1h-2zM9 8h1v1h-1zM24 8h1v1h-1zM9 9h1v1h-1zM29 10h1v1h-1zM7 11h1v1h-1zM29 11h2v1h-2zM33 11h1v1h-1zM30 12h1v1h-1zM5 13h1v1h-1zM7 13h1v1h-1zM29 13h1v1h-1zM15 14h1v1h-1zM4 15h1v1h-1zM26 15h2v1h-2zM32 15h1v1h-1zM6 16h1v1h-1zM26 16h1v1h-1zM31 16h1v1h-1zM4 17h1v1h-1zM21 17h1v1h-1zM30 17h3v1h-3zM6 18h1v1h-1zM22 20h1v1h-1zM31 21h1v1h-1zM9 22h1v1h-1zM21 22h1v1h-1zM0 23h4v1h-4zM14 23h1v1h-1zM24 24h1v1h-1zM15 26h1v1h-1zM15 27h1v1h-1zM15 28h1v1h-1zM15 29h1v1h-1z"/>
<path fill="rgb(80,80,80)" d="M11 0h2v1h-2zM23 0h1v1h-1zM28 0h1v1h-1zM32 0h1v1h-1zM11 1h2v1h-2zM23 1h1v1h-1zM28 1h1v1h-1zM32 1h1v1h-1zM11 2h2v1h-2zM23 2h1v1h-1zM28 2h1v1h-1zM32 2h1v1h-1zM11 3h2v1h-2zM23 3h1v1h-1zM28 3h1v1h-1zM32 3h1v1h-1zM15 4h1v1h-1zM22 4h1v1h-1zM26 4h1v1h-1zM28 4h2v1h-2zM33 4h5v1h-5zM11 5h1v1h-1zM22 5h1v1h-1zM25 5h1v1h-1zM33 5h1v1h-1zM10 6h2v1h-2zM27 6h1v1h-1zM33 6h1v1h-1zM20 7h1v1h-1zM10 8h1v1h-1zM25 8h1v1h-1zM29 8h1v1h-1zM24 9h1v1h-1zM29 9h2v1h-2zM6 10h1v1h-1zM9 10h1v1h-1zM16 10h1v1h-1zM30 10h1v1h-1zM0 11h4v1h-4zM16 11h1v1h-1zM28 11h1v1h-1zM0 12h5v1h-5zM7 12h2v1h-2zM28 12h2v1h-2zM0 13h5v1h-5zM20 13h1v1h-1zM28 13h1v1h-1zM19 14h1v1h-1zM24 14h1v1h-1zM28 14h1v1h-1zM0 15h4v1h-4zM31 15h1v1h-1zM33 15h5v1h-5zM0 16h4v1h-4zM27 16h2v1h-2zM32 16h2v1h-2zM7 17h2v1h-2zM26 17h3v1h-3zM8 18h1v1h-1zM28 18h1v1h-1zM31 18h1v1h-1zM5 19h1v1h-1zM31 19h1v1h-1zM0 20h4v1h-4zM18 20h1v1h-1zM26 20h2v1h-2zM8 21h3v1h-3zM12 21h1v1h-1zM15 21h1v1h-1zM18 21h1v1h-1zM20 21h2v1h-2zM32 21h1v1h-1zM4 22h1v1h-1zM10 22h1v1h-1zM15 22h2v1h-2zM18 22h1v1h-1zM4 23h1v1h-1zM16 23h1v1h-1zM20 23h1v1h-1zM4 24h1v1h-1zM14 24h1v1h-1zM16 24h2v1h-2zM30 24h1v1h-1zM15 25h3v1h-3zM28 25h1v1h-1zM4 26h1v1h-1zM13 26h1v1h-1zM16 26h1v1h-1zM26 26h1v1h-1zM29 26h1v1h-1zM33 26h1v1h-1zM4 27h1v1h-1zM13 27h1v1h-1zM16 27h1v1h-1zM26 27h1v1h-1zM29 27h1v1h-1zM33 27h1v1h-1zM4 28h1v1h-1zM13 28h1v1h-1zM16 28h1v1h-1zM26 28h1v1h-1zM29 28h1v1h-1zM33 28h1v1h-1zM4 29h1v1h-1zM13 29h1v1h-1zM16 29h1v1h-1zM26 29h1v1h-1zM29 29h1v1h-1zM33 29h1v1h-1z"/>
<path fill="rgb(96,96,96)" d="M4 0h1v1h-1zM10 0h1v1h-1zM14 0h2v1h-2zM18 0h1v1h-1zM26 0h2v1h-2zM33 0h5v1h-5zM4 1h1v1h-1zM10 1h1v1h-1zM14 1h2v1h-2zM18 1h1v1h-1zM26 1h2v1h-2zM33 1h5v1h-5zM4 2h1v1h-1zM10 2h1v1h-1zM14 2h2v1h-2zM18 2h1v1h-1zM26 2h2v1h-2zM33 2h5v1h-5zM4 3h1v1h-1zM10 3h1v1h-1zM14 3h2v1h-2zM18 3h1v1h-1zM26 3h2v1h-2zM33 3h5v1h-5zM10 4h3v1h-3zM23 4h2v1h-2zM27 4h1v1h-1zM10 5h1v1h-1zM14 5h1v1h-1zM23 5h1v1h-1zM27 5h1v1h-1zM32 5h1v1h-1zM34 5h4v1h-4zM12 6h1v1h-1zM20 6h1v1h-1zM24 6h1v1h-1zM30 6h1v1h-1zM11 7h1v1h-1zM26 7h1v1h-1zM11 8h1v1h-1zM28 8h1v1h-1zM32 8h1v1h-1zM6 9h1v1h-1zM8 9h1v1h-1zM16 9h1v1h-1zM23 9h1v1h-1zM23 10h1v1h-1zM5 11h1v1h-1zM26 11h1v1h-1zM5 12h1v1h-1zM15 12h1v1h-1zM20 12h1v1h-1zM27 12h1v1h-1zM34 12h4v1h-4zM15 13h1v1h-1zM23 13h1v1h-1zM7 14h1v1h-1zM27 14h1v1h-1zM5 15h1v1h-1zM15 15h1v1h-1zM24 15h1v1h-1zM28 15h1v1h-1zM8 16h1v1h-1zM24 16h2v1h-2zM30 16h1v1h-1zM25 17h1v1h-1zM4 18h1v1h-1zM26 18h2v1h-2zM32 18h2v1h-2zM6 19h1v1h-1zM26 19h1v1h-1zM32 19h6v1h-6zM8 20h1v1h-1zM12 20h1v1h-1zM17 20h1v1h-1zM30 20h1v1h-1zM4 21h1v1h-1zM22 21h1v1h-1zM30 21h1v1h-1zM17 22h1v1h-1zM30 23h2v1h-2zM28 24h1v1h-1zM31 24h1v1h-1zM12 25h1v1h-1zM19 25h1v1h-1zM31 25h1v1h-1zM12 26h1v1h-1zM19 26h1v1h-1zM25 26h1v1h-1zM31 26h1v1h-1zM12 27h1v1h-1zM19 27h1v1h-1zM25 27h1v1h-1zM31 27h1v1h-1zM12 28h1v1h-1zM19 28h1v1h-1zM25 28h1v1h-1zM31 28h1v1h-1zM12 29h1v1h-1zM19 29h1v1h-1zM25 29h1v1h-1zM31 29h1v1h-1z"/>
<path fill="rgb(112,112,112)" d="M16 0h1v1h-1zM24 0h1v1h-1zM30 0h2v1h-2zM16 1h1v1h-1zM24 1h1v1h-1zM30 1h2v1h-2zM16 2h1v1h-1zM24 2h1v1h-1zM30 2h2v1h-2zM16 3h1v1h-1zM24 3h1v1h-1zM30 3h2v1h-2zM14 4h1v1h-1zM32 4h1v1h-1zM0 5h4v1h-4zM12 5h1v1h-1zM20 5h2v1h-2zM31 5h1v1h-1zM13 6h2v1h-2zM17 6h1v1h-1zM21 6h2v1h-2zM31 6h1v1h-1zM34 6h4v1h-4zM17 7h1v1h-1zM21 7h1v1h-1zM23 7h1v1h-1zM27 7h1v1h-1zM29 7h2v1h-2zM33 7h5v1h-5zM13 8h1v1h-1zM22 8h2v1h-2zM34 8h4v1h-4zM10 9h1v1h-1zM18 9h1v1h-1zM31 9h1v1h-1zM34 9h4v1h-4zM11 10h3v1h-3zM28 10h1v1h-1zM31 10h2v1h-2zM34 10h4v1h-4zM9 11h1v1h-1zM11 11h2v1h-2zM14 11h1v1h-1zM23 11h1v1h-1zM25 11h1v1h-1zM27 11h1v1h-1zM31 11h1v1h-1zM14 12h1v1h-1zM16 12h1v1h-1zM22 12h1v1h-1zM25 12h2v1h-2zM31 12h1v1h-1zM14 13h1v1h-1zM24 13h1v1h-1zM26 13h2v1h-2zM30 13h1v1h-1zM13 14h1v1h-1zM21 14h1v1h-1zM25 14h2v1h-2zM29 14h1v1h-1zM32 14h6v1h-6zM6 15h1v1h-1zM19 15h1v1h-1zM25 15h1v1h-1zM7 16h1v1h-1zM11 16h1v1h-1zM29 16h1v1h-1zM29 17h1v1h-1zM9 18h1v1h-1zM13 18h1v1h-1zM21 18h1v1h-1zM25 18h1v1h-1zM29 18h1v1h-1zM4 19h1v1h-1zM7 19h1v1h-1zM22 19h1v1h-1zM24 19h2v1h-2zM27 19h2v1h-2zM7 20h1v1h-1zM9 20h2v1h-2zM13 20h2v1h-2zM25 20h1v1h-1zM31 20h2v1h-2zM13 21h1v1h-1zM16 21h2v1h-2zM19 21h1v1h-1zM25 21h2v1h-2zM5 22h1v1h-1zM13 22h2v1h-2zM19 22h1v1h-1zM30 22h3v1h-3zM13 23h1v1h-1zM15 23h1v1h-1zM17 23h2v1h-2zM24 23h1v1h-1zM26 23h1v1h-1zM5 24h1v1h-1zM15 24h1v1h-1zM19 24h1v1h-1zM26 24h2v1h-2zM34 24h4v1h-4zM5 25h2v1h-2zM10 25h1v1h-1zM26 25h2v1h-2zM29 25h1v1h-1zM33 25h1v1h-1zM7 26h1v1h-1zM11 26h1v1h-1zM14 26h1v1h-1zM24 26h1v1h-1zM28 26h1v1h-1zM7 27h1v1h-1zM11 27h1v1h-1zM14 27h1v1h-1zM24 27h1v1h-1zM28 27h1v1h-1zM7 28h1v1h-1zM11 28h1v1h-1zM14 28h1v1h-1zM24 28h1v1h-1zM28 28h1v1h-1zM7 29h1v1h-1zM11 29h1v1h-1zM14 29h1v1h-1zM24 29h1v1h-1zM28 29h1v1h-1z"/>
<path fill="rgb(128,128,128)" d="M7 0h1v1h-1zM13 0h1v1h-1zM22 0h1v1h-1zM7 1h1v1h-1zM13 1h1v1h-1zM22 1h1v1h-1zM7 2h1v1h-1zM13 2h1v1h-1zM22 2h1v1h-1zM7 3h1v1h-1zM13 3h1v1h-1zM22 3h1v1h-1zM4 4h1v1h-1zM8 4h2v1h-2zM13 4h1v1h-1zM18 4h1v1h-1zM21 4h1v1h-1zM30 4h1v1h-1zM4 5h1v1h-1zM13 5h1v1h-1zM15 5h1v1h-1zM18 5h2v1h-2zM30 5h1v1h-1zM0 6h4v1h-4zM9 6h1v1h-1zM0 7h4v1h-4zM12 7h1v1h-1zM14 7h1v1h-1zM18 7h2v1h-2zM22 7h1v1h-1zM8 8h1v1h-1zM12 8h1v1h-1zM16 8h3v1h-3zM20 8h1v1h-1zM30 8h1v1h-1zM33 8h1v1h-1zM11 9h3v1h-3zM22 9h1v1h-1zM25 9h1v1h-1zM5 10h1v1h-1zM10 10h1v1h-1zM22 10h1v1h-1zM33 10h1v1h-1zM6 11h1v1h-1zM10 11h1v1h-1zM13 11h1v1h-1zM15 11h1v1h-1zM18 11h1v1h-1zM22 11h1v1h-1zM34 11h4v1h-4zM11 12h3v1h-3zM24 12h1v1h-1zM32 12h2v1h-2zM11 13h3v1h-3zM17 13h1v1h-1zM19 13h1v1h-1zM22 13h1v1h-1zM25 13h1v1h-1zM34 13h4v1h-4zM6 14h1v1h-1zM9 14h2v1h-2zM12 14h1v1h-1zM16 14h1v1h-1zM23 14h1v1h-1zM30 14h1v1h-1zM12 15h3v1h-3zM20 15h1v1h-1zM29 15h1v1h-1zM12 16h1v1h-1zM14 16h2v1h-2zM34 16h4v1h-4zM0 17h4v1h-4zM9 17h1v1h-1zM12 17h2v1h-2zM24 17h1v1h-1zM11 18h1v1h-1zM14 18h1v1h-1zM19 18h1v1h-1zM30 18h1v1h-1zM13 19h2v1h-2zM5 20h1v1h-1zM28 20h1v1h-1zM5 21h2v1h-2zM11 21h1v1h-1zM14 21h1v1h-1zM24 21h1v1h-1zM29 21h1v1h-1zM11 22h1v1h-1zM22 22h1v1h-1zM25 22h1v1h-1zM5 23h1v1h-1zM9 23h1v1h-1zM19 23h1v1h-1zM21 23h1v1h-1zM25 23h1v1h-1zM27 23h1v1h-1zM29 23h1v1h-1zM0 24h4v1h-4zM12 24h1v1h-1zM18 24h1v1h-1zM20 24h1v1h-1zM25 24h1v1h-1zM29 24h1v1h-1zM33 24h1v1h-1zM11 25h1v1h-1zM14 25h1v1h-1zM18 25h1v1h-1zM21 25h1v1h-1zM23 25h1v1h-1zM25 25h1v1h-1zM30 25h1v1h-1zM32 25h1v1h-1zM0 26h4v1h-4zM6 26h1v1h-1zM10 26h1v1h-1zM17 26h1v1h-1zM27 26h1v1h-1zM32 26h1v1h-1zM0 27h4v1h-4zM6 27h1v1h-1zM10 27h1v1h-1zM17 27h1v1h-1zM27 27h1v1h-1zM32 27h1v1h-1zM0 28h4v1h-4zM6 28h1v1h-1zM10 28h1v1h-1zM17 28h1v1h-1zM27 28h1v1h-1zM32 28h1v1h-1zM0 29h4v1h-4zM6 29h1v1h-1zM10 29h1v1h-1zM17 29h1v1h-1zM27 29h1v1h-1zM32 29h1v1h-1z"/>
<path fill="rgb(143,143,143)" d="M0 0h4v1h-4zM6 0h1v1h-1zM8 0h2v1h-2zM19 0h1v1h-1zM21 0h1v1h-1zM25 0h1v1h-1zM29 0h1v1h-1zM0 1h4v1h-4zM6 1h1v1h-1zM8 1h2v1h-2zM19 1h1v1h-1zM21 1h1v1h-1zM25 1h1v1h-1zM29 1h1v1h-1zM0 2h4v1h-4zM6 2h1v1h-1zM8 2h2v1h-2zM19 2h1v1h-1zM21 2h1v1h-1zM25 2h1v1h-1zM29 2h1v1h-1zM0 3h4v1h-4zM6 3h1v1h-1zM8 3h2v1h-2zM19 3h1v1h-1zM21 3h1v1h-1zM25 3h1v1h-1zM29 3h1v1h-1zM0 4h4v1h-4zM7 4h1v1h-1zM17 4h1v1h-1zM25 4h1v1h-1zM31 4h1v1h-1zM6 5h1v1h-1zM9 5h1v1h-1zM17 5h1v1h-1zM24 5h1v1h-1zM28 5h1v1h-1zM18 6h2v1h-2zM23 6h1v1h-1zM28 6h1v1h-1zM32 6h1v1h-1zM4 7h1v1h-1zM8 7h1v1h-1zM28 7h1v1h-1zM31 7h1v1h-1zM14 8h1v1h-1zM19 8h1v1h-1zM21 8h1v1h-1zM26 8h1v1h-1zM5 9h1v1h-1zM14 9h1v1h-1zM21 9h1v1h-1zM28 9h1v1h-1zM14 10h1v1h-1zM18 10h1v1h-1zM21 10h1v1h-1zM24 10h1v1h-1zM26 10h1v1h-1zM4 11h1v1h-1zM21 11h1v1h-1zM32 11h1v1h-1zM6 12h1v1h-1zM9 12h2v1h-2zM18 12h1v1h-1zM23 12h1v1h-1zM8 13h1v1h-1zM16 13h1v1h-1zM21 13h1v1h-1zM31 13h1v1h-1zM33 13h1v1h-1zM5 14h1v1h-1zM14 14h1v1h-1zM17 14h2v1h-2zM22 14h1v1h-1zM31 14h1v1h-1zM10 15h2v1h-2zM16 15h3v1h-3zM22 15h2v1h-2zM30 15h1v1h-1zM13 16h1v1h-1zM17 16h1v1h-1zM22 16h1v1h-1zM10 17h2v1h-2zM14 17h1v1h-1zM17 17h1v1h-1zM19 17h2v1h-2zM10 18h1v1h-1zM12 18h1v1h-1zM20 18h1v1h-1zM22 18h3v1h-3zM34 18h4v1h-4zM10 19h2v1h-2zM29 19h2v1h-2zM4 20h1v1h-1zM6 20h1v1h-1zM15 20h2v1h-2zM19 20h3v1h-3zM23 20h2v1h-2zM29 20h1v1h-1zM33 20h1v1h-1zM7 21h1v1h-1zM27 21h2v1h-2zM33 21h1v1h-1zM6 22h1v1h-1zM8 22h1v1h-1zM24 22h1v1h-1zM26 22h4v1h-4zM10 23h1v1h-1zM12 23h1v1h-1zM22 23h2v1h-2zM28 23h1v1h-1zM32 23h1v1h-1zM34 23h4v1h-4zM6 24h1v1h-1zM10 24h2v1h-2zM13 24h1v1h-1zM22 24h2v1h-2zM32 24h1v1h-1zM4 25h1v1h-1zM7 25h1v1h-1zM13 25h1v1h-1zM5 26h1v1h-1zM8 26h2v1h-2zM18 26h1v1h-1zM20 26h2v1h-2zM5 27h1v1h-1zM8 27h2v1h-2zM18 27h1v1h-1zM20 27h2v1h-2zM5 28h1v1h-1zM8 28h2v1h-2zM18 28h1v1h-1zM20 28h2v1h-2zM5 29h1v1h-1zM8 29h2v1h-2zM18 29h1v1h-1zM20 29h2v1h-2z"/>
<path fill="rgb(159,159,159)" d="M5 0h1v1h-1zM17 0h1v1h-1zM5 1h1v1h-1zM17 1h1v1h-1zM5 2h1v1h-1zM17 2h1v1h-1zM5 3h1v1h-1zM17 3h1v1h-1zM5 4h2v1h-2zM16 4h1v1h-1zM19 4h2v1h-2zM5 5h1v1h-1zM7 5h2v1h-2zM16 5h1v1h-1zM29 5h1v1h-1zM4 6h1v1h-1zM6 6h1v1h-1zM8 6h1v1h-1zM16 6h1v1h-1zM6 7h1v1h-1zM15 7h1v1h-1zM32 7h1v1h-1zM0 8h7v1h-7zM15 8h1v1h-1zM27 8h1v1h-1zM31 8h1v1h-1zM15 9h1v1h-1zM19 9h1v1h-1zM27 9h1v1h-1zM32 9h2v1h-2zM0 10h4v1h-4zM15 10h1v1h-1zM19 10h2v1h-2zM25 10h1v1h-1zM17 11h1v1h-1zM20 11h1v1h-1zM24 11h1v1h-1zM17 12h1v1h-1zM19 12h1v1h-1zM10 13h1v1h-1zM18 13h1v1h-1zM32 13h1v1h-1zM8 14h1v1h-1zM7 15h3v1h-3zM10 16h1v1h-1zM16 16h1v1h-1zM18 16h2v1h-2zM21 16h1v1h-1zM23 16h1v1h-1zM15 17h2v1h-2zM22 17h1v1h-1zM34 17h4v1h-4zM0 18h4v1h-4zM7 18h1v1h-1zM15 18h1v1h-1zM17 18h1v1h-1zM8 19h2v1h-2zM12 19h1v1h-1zM15 19h4v1h-4zM20 19h2v1h-2zM11 20h1v1h-1zM34 20h4v1h-4zM34 21h4v1h-4zM12 22h1v1h-1zM23 22h1v1h-1zM33 22h5v1h-5zM6 23h2v1h-2zM11 23h1v1h-1zM33 23h1v1h-1zM8 24h2v1h-2zM0 25h4v1h-4zM8 25h2v1h-2zM20 25h1v1h-1zM24 25h1v1h-1zM22 26h2v1h-2zM22 27h2v1h-2zM22 28h2v1h-2zM22 29h2v1h-2z"/>
<path fill="rgb(175,175,175)" d="M20 0h1v1h-1zM20 1h1v1h-1zM20 2h1v1h-1zM20 3h1v1h-1zM7 6h1v1h-1zM15 6h1v1h-1zM29 6h1v1h-1zM5 7h1v1h-1zM7 7h1v1h-1zM16 7h1v1h-1zM4 9h1v1h-1zM17 9h1v1h-1zM20 9h1v1h-1zM26 9h1v1h-1zM17 10h1v1h-1zM27 10h1v1h-1zM19 11h1v1h-1zM9 13h1v1h-1zM11 14h1v1h-1zM9 16h1v1h-1zM20 16h1v1h-1zM18 17h1v1h-1zM23 17h1v1h-1zM16 18h1v1h-1zM19 19h1v1h-1zM23 21h1v1h-1zM7 22h1v1h-1zM8 23h1v1h-1zM7 24h1v1h-1zM22 25h1v1h-1z"/>
<path fill="rgb(191,191,191)" d="M5 6h1v1h-1zM7 8h1v1h-1zM4 10h1v1h-1zM21 15h1v1h-1zM18 18h1v1h-1zM0 19h4v1h-4zM21 24h1v1h-1z"/>
<path fill="rgb(207,207,207)" d="M0 9h4v1h-4z"/>
</g></g>
</svg>
<linearGradient id="ga" x1="0" y1="0" x2="0" y2="1"><stop offset="0.0000" stop-color="rgb(189,0,0)"/><stop offset="0.0691" stop-color="rgb(255,0,0)"/><stop offset="0.3351" stop-color="rgb(255,255,0)"/><stop offset="0.6011" stop-color="rgb(0,255,255)"/><stop offset="0.8670" stop-color="rgb(0,0,255)"/><stop offset="1.0000" stop-color="rgb(0,0,128)"/></linearGradient>
<rect x="795" y="29" width="61" height="684" fill="url(#ga)" stroke="#262626" stroke-width="2"/>
<rect x="848" y="27.6" width="8" height="2" fill="#262626"/><text x="872.4" y="45.0" class="t" style="letter-spacing:-0.8px">500</text>
<rect x="848" y="164.7" width="8" height="2" fill="#262626"/><text x="872.4" y="181.7" class="t" style="letter-spacing:-0.8px">400</text>
<rect x="848" y="301.8" width="8" height="2" fill="#262626"/><text x="872.4" y="318.4" class="t" style="letter-spacing:-0.8px">300</text>
<rect x="848" y="438.9" width="8" height="2" fill="#262626"/><text x="872.4" y="455.1" class="t" style="letter-spacing:-0.8px">200</text>
<rect x="848" y="576.0" width="8" height="2" fill="#262626"/><text x="872.4" y="591.8" class="t" style="letter-spacing:-0.8px">100</text>
<rect x="848" y="713.1" width="8" height="2" fill="#262626"/><text x="872.4" y="728.5" class="t" style="letter-spacing:-0.8px">0</text>

<linearGradient id="gb" x1="0" y1="0" x2="0" y2="1"><stop offset="0.0000" stop-color="rgb(128,0,0)"/><stop offset="0.1250" stop-color="rgb(255,0,0)"/><stop offset="0.3750" stop-color="rgb(255,255,0)"/><stop offset="0.6250" stop-color="rgb(0,255,255)"/><stop offset="0.8750" stop-color="rgb(0,0,255)"/><stop offset="1.0000" stop-color="rgb(0,0,128)"/></linearGradient>
<rect x="2091" y="18" width="63" height="694" fill="url(#gb)" stroke="#262626" stroke-width="2"/>
<rect x="2146" y="32.6" width="8" height="2" fill="#262626"/><text x="2169.5" y="49.6" class="t">3</text>
<rect x="2146" y="143.1" width="8" height="2" fill="#262626"/><text x="2169.5" y="160.1" class="t">2</text>
<rect x="2146" y="253.6" width="8" height="2" fill="#262626"/><text x="2169.5" y="270.6" class="t">1</text>
<rect x="2146" y="364.0" width="8" height="2" fill="#262626"/><text x="2169.5" y="381.0" class="t">0</text>
<rect x="2146" y="474.4" width="8" height="2" fill="#262626"/><text x="2169.5" y="491.4" class="t">-1</text>
<rect x="2146" y="584.9" width="8" height="2" fill="#262626"/><text x="2169.5" y="601.9" class="t">-2</text>
<rect x="2146" y="695.4" width="8" height="2" fill="#262626"/><text x="2169.5" y="712.4" class="t">-3</text>

<linearGradient id="gc" x1="0" y1="0" x2="0" y2="1"><stop offset="0.0000" stop-color="rgb(128,0,0)"/><stop offset="0.1250" stop-color="rgb(255,0,0)"/><stop offset="0.3750" stop-color="rgb(255,255,0)"/><stop offset="0.6250" stop-color="rgb(0,255,255)"/><stop offset="0.8750" stop-color="rgb(0,0,255)"/><stop offset="1.0000" stop-color="rgb(0,0,128)"/></linearGradient>
<rect x="799" y="890" width="63" height="694" fill="url(#gc)" stroke="#262626" stroke-width="2"/>
<rect x="854" y="934.0" width="8" height="2" fill="#262626"/><text x="877.2" y="951.0" class="t">0.8</text>
<rect x="854" y="1017.1" width="8" height="2" fill="#262626"/><text x="877.2" y="1034.1" class="t">0.6</text>
<rect x="854" y="1100.3" width="8" height="2" fill="#262626"/><text x="877.2" y="1117.3" class="t">0.4</text>
<rect x="854" y="1183.4" width="8" height="2" fill="#262626"/><text x="877.2" y="1200.4" class="t">0.2</text>
<rect x="854" y="1266.6" width="8" height="2" fill="#262626"/><text x="877.2" y="1283.6" class="t">0</text>
<rect x="854" y="1349.7" width="8" height="2" fill="#262626"/><text x="877.2" y="1366.7" class="t">-0.2</text>
<rect x="854" y="1432.8" width="8" height="2" fill="#262626"/><text x="877.2" y="1449.8" class="t">-0.4</text>
<rect x="854" y="1516.0" width="8" height="2" fill="#262626"/><text x="877.2" y="1533.0" class="t">-0.6</text>

<linearGradient id="gd" x1="0" y1="0" x2="0" y2="1"><stop offset="0.0000" stop-color="rgb(128,0,0)"/><stop offset="0.1250" stop-color="rgb(255,0,0)"/><stop offset="0.3750" stop-color="rgb(255,255,0)"/><stop offset="0.6250" stop-color="rgb(0,255,255)"/><stop offset="0.8750" stop-color="rgb(0,0,255)"/><stop offset="1.0000" stop-color="rgb(0,0,128)"/></linearGradient>
<rect x="2074" y="890" width="63" height="694" fill="url(#gd)" stroke="#262626" stroke-width="2"/>
<rect x="2129" y="943.0" width="8" height="2" fill="#262626"/><text x="2152.2" y="960.0" class="t">0.2</text>
<rect x="2129" y="1101.5" width="8" height="2" fill="#262626"/><text x="2152.2" y="1118.5" class="t">0.1</text>
<rect x="2129" y="1260.0" width="8" height="2" fill="#262626"/><text x="2152.2" y="1277.0" class="t">0</text>
<rect x="2129" y="1418.5" width="8" height="2" fill="#262626"/><text x="2152.2" y="1435.5" class="t">-0.1</text>
<rect x="2129" y="1577.0" width="8" height="2" fill="#262626"/><text x="2152.2" y="1594.0" class="t">-0.2</text>

<text x="257" y="762" class="c" style="letter-spacing:-0.26px">Reference DEM (m)</text>
<text x="1489" y="762.5" class="c">Noisy wrapped phase (rad)</text>
<text x="111" y="1633.4" class="c" style="letter-spacing:0.04px">Ideal horizontal phase gradient (rad)</text>
<text x="1409.3" y="1633.4" class="c" style="letter-spacing:0.07px">Ideal vertical phase gradient (rad)</text>
<text class="p" transform="translate(443.9 861.0) scale(0.864 1)">(</text><text class="l" x="466" y="860.5" style="font-size:64px">a</text><text class="p" transform="translate(497.1 861.0) scale(0.864 1)">)</text>
<text class="p" transform="translate(1715.8 861.0) scale(0.864 1)">(</text><text class="l" x="1735.8" y="860.5" style="font-size:68px">b</text><text class="p" transform="translate(1776.2 861.0) scale(0.864 1)">)</text>
<text class="p" transform="translate(446 1732.1) scale(0.864 1)">(</text><text class="l" x="467" y="1731.6" style="font-size:65px">c</text><text class="p" transform="translate(496.1 1732.1) scale(0.864 1)">)</text>
<text class="p" transform="translate(1716 1732.1) scale(0.864 1)">(</text><text class="l" x="1735.9" y="1731.6" style="font-size:68px">d</text><text class="p" transform="translate(1776.2 1732.1) scale(0.864 1)">)</text>
</svg></body></html>
